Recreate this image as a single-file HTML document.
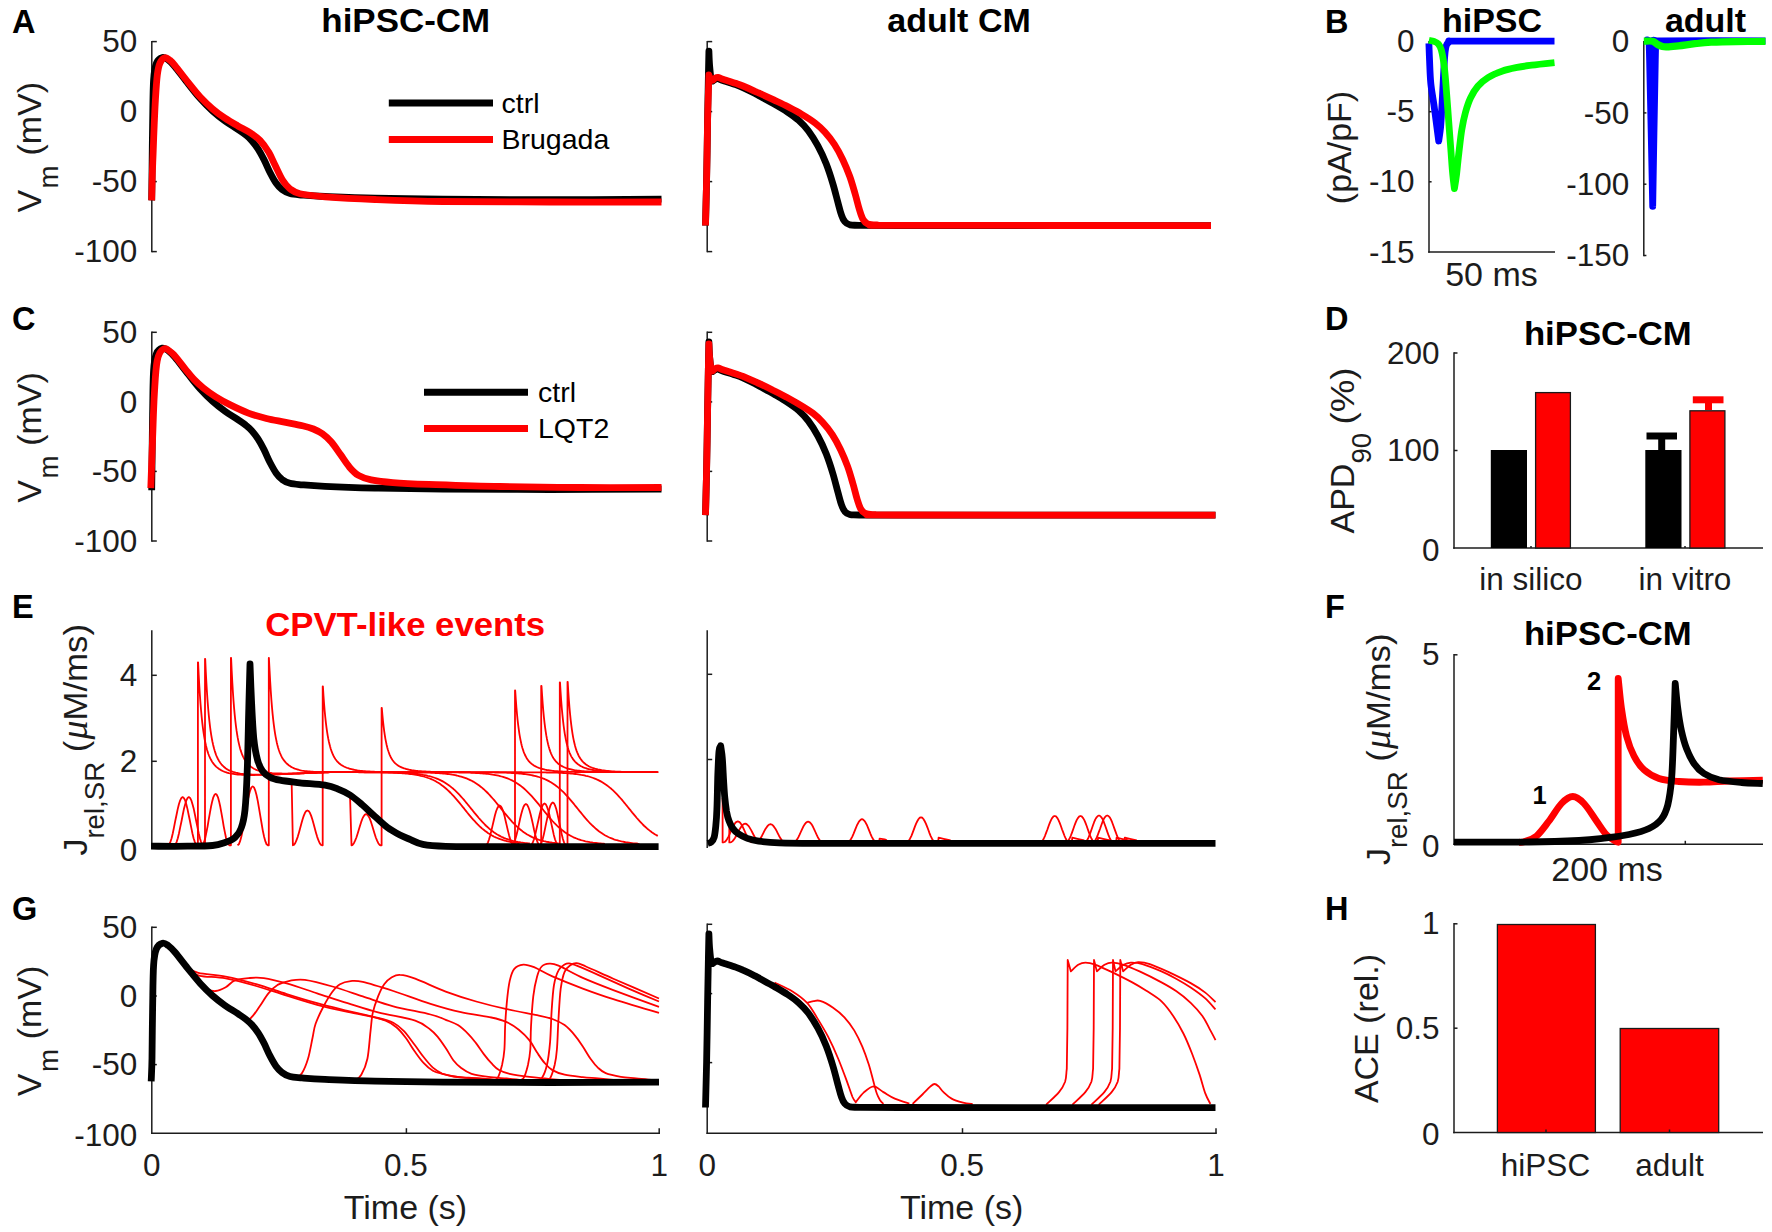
<!DOCTYPE html>
<html lang="en"><head><meta charset="utf-8"><title>Figure</title>
<style>html,body{margin:0;padding:0;background:#fff}svg{display:block}text{font-family:"Liberation Sans",Arial,Helvetica,sans-serif}</style></head>
<body>
<svg width="1772" height="1232" viewBox="0 0 1772 1232">
<rect width="1772" height="1232" fill="#fff"/>
<text x="12" y="33.3" font-size="32.5" text-anchor="start" font-weight="bold" fill="#000">A</text>
<text x="12" y="329.5" font-size="32.5" text-anchor="start" font-weight="bold" fill="#000">C</text>
<text x="12" y="617.5" font-size="32.5" text-anchor="start" font-weight="bold" fill="#000">E</text>
<text x="12" y="919.5" font-size="32.5" text-anchor="start" font-weight="bold" fill="#000">G</text>
<text x="1325" y="33.3" font-size="32.5" text-anchor="start" font-weight="bold" fill="#000">B</text>
<text x="1325" y="329.5" font-size="32.5" text-anchor="start" font-weight="bold" fill="#000">D</text>
<text x="1325" y="617.5" font-size="32.5" text-anchor="start" font-weight="bold" fill="#000">F</text>
<text x="1325" y="919.5" font-size="32.5" text-anchor="start" font-weight="bold" fill="#000">H</text>
<text x="405.7" y="31.5" font-size="34" text-anchor="middle" font-weight="bold" fill="#000" textLength="168.8" lengthAdjust="spacingAndGlyphs">hiPSC-CM</text>
<text x="959" y="31.5" font-size="34" text-anchor="middle" font-weight="bold" fill="#000">adult CM</text>
<text x="1492" y="31.5" font-size="34" text-anchor="middle" font-weight="bold" fill="#000">hiPSC</text>
<text x="1705.5" y="31.5" font-size="34" text-anchor="middle" font-weight="bold" fill="#000">adult</text>
<text x="1607.8" y="344.5" font-size="34" text-anchor="middle" font-weight="bold" fill="#000" textLength="167.8" lengthAdjust="spacingAndGlyphs">hiPSC-CM</text>
<text x="1607.8" y="645" font-size="34" text-anchor="middle" font-weight="bold" fill="#000" textLength="167.8" lengthAdjust="spacingAndGlyphs">hiPSC-CM</text>
<text x="405.2" y="635.5" font-size="34" text-anchor="middle" font-weight="bold" fill="#f00" textLength="280" lengthAdjust="spacingAndGlyphs">CPVT-like events</text>
<path d="M151.8 40.9L151.8 252.3" stroke="#1c1c1c" stroke-width="1.5" fill="none"/>
<path d="M151.8 41.6L156.8 41.6" stroke="#1c1c1c" stroke-width="1.5" fill="none"/>
<text x="137.2" y="52.2" font-size="31.5" text-anchor="end" fill="#1c1c1c">50</text>
<path d="M151.8 111.6L156.8 111.6" stroke="#1c1c1c" stroke-width="1.5" fill="none"/>
<text x="137.2" y="122.2" font-size="31.5" text-anchor="end" fill="#1c1c1c">0</text>
<path d="M151.8 181.6L156.8 181.6" stroke="#1c1c1c" stroke-width="1.5" fill="none"/>
<text x="137.2" y="192.2" font-size="31.5" text-anchor="end" fill="#1c1c1c">-50</text>
<path d="M151.8 251.6L156.8 251.6" stroke="#1c1c1c" stroke-width="1.5" fill="none"/>
<text x="137.2" y="262.2" font-size="31.5" text-anchor="end" fill="#1c1c1c">-100</text>
<path d="M707.2 40.9L707.2 252.3" stroke="#1c1c1c" stroke-width="1.5" fill="none"/>
<path d="M707.2 41.6L712.2 41.6" stroke="#1c1c1c" stroke-width="1.5" fill="none"/>
<path d="M707.2 111.6L712.2 111.6" stroke="#1c1c1c" stroke-width="1.5" fill="none"/>
<path d="M707.2 181.6L712.2 181.6" stroke="#1c1c1c" stroke-width="1.5" fill="none"/>
<path d="M707.2 251.6L712.2 251.6" stroke="#1c1c1c" stroke-width="1.5" fill="none"/>
<path d="M151.8 331.6L151.8 541.8" stroke="#1c1c1c" stroke-width="1.5" fill="none"/>
<path d="M151.8 332.3L156.8 332.3" stroke="#1c1c1c" stroke-width="1.5" fill="none"/>
<text x="137.2" y="342.9" font-size="31.5" text-anchor="end" fill="#1c1c1c">50</text>
<path d="M151.8 401.9L156.8 401.9" stroke="#1c1c1c" stroke-width="1.5" fill="none"/>
<text x="137.2" y="412.5" font-size="31.5" text-anchor="end" fill="#1c1c1c">0</text>
<path d="M151.8 471.4L156.8 471.4" stroke="#1c1c1c" stroke-width="1.5" fill="none"/>
<text x="137.2" y="482" font-size="31.5" text-anchor="end" fill="#1c1c1c">-50</text>
<path d="M151.8 541L156.8 541" stroke="#1c1c1c" stroke-width="1.5" fill="none"/>
<text x="137.2" y="551.6" font-size="31.5" text-anchor="end" fill="#1c1c1c">-100</text>
<path d="M707.2 331.6L707.2 541.8" stroke="#1c1c1c" stroke-width="1.5" fill="none"/>
<path d="M707.2 332.3L712.2 332.3" stroke="#1c1c1c" stroke-width="1.5" fill="none"/>
<path d="M707.2 401.9L712.2 401.9" stroke="#1c1c1c" stroke-width="1.5" fill="none"/>
<path d="M707.2 471.4L712.2 471.4" stroke="#1c1c1c" stroke-width="1.5" fill="none"/>
<path d="M707.2 541L712.2 541" stroke="#1c1c1c" stroke-width="1.5" fill="none"/>
<path d="M151.8 630.2L151.8 848" stroke="#1c1c1c" stroke-width="1.5" fill="none"/>
<path d="M151.8 675.3L156.8 675.3" stroke="#1c1c1c" stroke-width="1.5" fill="none"/>
<text x="137.2" y="685.9" font-size="31.5" text-anchor="end" fill="#1c1c1c">4</text>
<path d="M151.8 761.3L156.8 761.3" stroke="#1c1c1c" stroke-width="1.5" fill="none"/>
<text x="137.2" y="771.9" font-size="31.5" text-anchor="end" fill="#1c1c1c">2</text>
<text x="137.2" y="860.8" font-size="31.5" text-anchor="end" fill="#1c1c1c">0</text>
<path d="M707.2 630.2L707.2 848" stroke="#1c1c1c" stroke-width="1.5" fill="none"/>
<path d="M707.2 674.3L712.2 674.3" stroke="#1c1c1c" stroke-width="1.5" fill="none"/>
<path d="M707.2 759.5L712.2 759.5" stroke="#1c1c1c" stroke-width="1.5" fill="none"/>
<path d="M151.8 926.5L151.8 1134" stroke="#1c1c1c" stroke-width="1.5" fill="none"/>
<path d="M151.8 927.3L156.8 927.3" stroke="#1c1c1c" stroke-width="1.5" fill="none"/>
<text x="137.2" y="937.9" font-size="31.5" text-anchor="end" fill="#1c1c1c">50</text>
<path d="M151.8 996L156.8 996" stroke="#1c1c1c" stroke-width="1.5" fill="none"/>
<text x="137.2" y="1006.6" font-size="31.5" text-anchor="end" fill="#1c1c1c">0</text>
<path d="M151.8 1064.6L156.8 1064.6" stroke="#1c1c1c" stroke-width="1.5" fill="none"/>
<text x="137.2" y="1075.2" font-size="31.5" text-anchor="end" fill="#1c1c1c">-50</text>
<text x="137.2" y="1145.8" font-size="31.5" text-anchor="end" fill="#1c1c1c">-100</text>
<path d="M707.2 923.5L707.2 1134" stroke="#1c1c1c" stroke-width="1.5" fill="none"/>
<path d="M707.2 924.3L712.2 924.3" stroke="#1c1c1c" stroke-width="1.5" fill="none"/>
<path d="M707.2 993.6L712.2 993.6" stroke="#1c1c1c" stroke-width="1.5" fill="none"/>
<path d="M707.2 1062.6L712.2 1062.6" stroke="#1c1c1c" stroke-width="1.5" fill="none"/>
<path d="M151 1133.2L660 1133.2" stroke="#1c1c1c" stroke-width="1.5" fill="none"/>
<path d="M406.4 1133.2L406.4 1128.2" stroke="#1c1c1c" stroke-width="1.5" fill="none"/>
<path d="M659.2 1133.2L659.2 1128.2" stroke="#1c1c1c" stroke-width="1.5" fill="none"/>
<text x="151.8" y="1175.5" font-size="31.5" text-anchor="middle" fill="#1c1c1c">0</text>
<text x="406" y="1175.5" font-size="31.5" text-anchor="middle" fill="#1c1c1c">0.5</text>
<text x="659.2" y="1175.5" font-size="31.5" text-anchor="middle" fill="#1c1c1c">1</text>
<text x="405.5" y="1219" font-size="34" text-anchor="middle" fill="#1c1c1c">Time (s)</text>
<path d="M706.5 1133.2L1216.8 1133.2" stroke="#1c1c1c" stroke-width="1.5" fill="none"/>
<path d="M962.5 1133.2L962.5 1128.2" stroke="#1c1c1c" stroke-width="1.5" fill="none"/>
<path d="M1216 1133.2L1216 1128.2" stroke="#1c1c1c" stroke-width="1.5" fill="none"/>
<text x="707.2" y="1175.5" font-size="31.5" text-anchor="middle" fill="#1c1c1c">0</text>
<text x="962.1" y="1175.5" font-size="31.5" text-anchor="middle" fill="#1c1c1c">0.5</text>
<text x="1216" y="1175.5" font-size="31.5" text-anchor="middle" fill="#1c1c1c">1</text>
<text x="961.6" y="1219" font-size="34" text-anchor="middle" fill="#1c1c1c">Time (s)</text>
<path d="M1429 40.9L1429 252.8" stroke="#1c1c1c" stroke-width="1.5" fill="none"/>
<path d="M1429 41.6L1431.6 41.6" stroke="#1c1c1c" stroke-width="1.5" fill="none"/>
<text x="1414.5" y="52.2" font-size="31.5" text-anchor="end" fill="#1c1c1c">0</text>
<path d="M1429 111.7L1431.6 111.7" stroke="#1c1c1c" stroke-width="1.5" fill="none"/>
<text x="1414.5" y="122.3" font-size="31.5" text-anchor="end" fill="#1c1c1c">-5</text>
<path d="M1429 181.8L1431.6 181.8" stroke="#1c1c1c" stroke-width="1.5" fill="none"/>
<text x="1414.5" y="192.4" font-size="31.5" text-anchor="end" fill="#1c1c1c">-10</text>
<text x="1414.5" y="262.6" font-size="31.5" text-anchor="end" fill="#1c1c1c">-15</text>
<path d="M1428.2 252L1555 252" stroke="#1c1c1c" stroke-width="1.5" fill="none"/>
<text x="1491.5" y="285.5" font-size="34" text-anchor="middle" fill="#1c1c1c">50 ms</text>
<path d="M1643.8 40.9L1643.8 256.2" stroke="#1c1c1c" stroke-width="1.5" fill="none"/>
<path d="M1643.8 41.6L1646.4 41.6" stroke="#1c1c1c" stroke-width="1.5" fill="none"/>
<text x="1629.3" y="52.2" font-size="31.5" text-anchor="end" fill="#1c1c1c">0</text>
<path d="M1643.8 112.9L1646.4 112.9" stroke="#1c1c1c" stroke-width="1.5" fill="none"/>
<text x="1629.3" y="123.5" font-size="31.5" text-anchor="end" fill="#1c1c1c">-50</text>
<path d="M1643.8 184.2L1646.4 184.2" stroke="#1c1c1c" stroke-width="1.5" fill="none"/>
<text x="1629.3" y="194.8" font-size="31.5" text-anchor="end" fill="#1c1c1c">-100</text>
<path d="M1643.8 255.5L1646.4 255.5" stroke="#1c1c1c" stroke-width="1.5" fill="none"/>
<text x="1629.3" y="266.1" font-size="31.5" text-anchor="end" fill="#1c1c1c">-150</text>
<path d="M1454 352.2L1454 548.8" stroke="#1c1c1c" stroke-width="1.5" fill="none"/>
<path d="M1454 353L1457.5 353" stroke="#1c1c1c" stroke-width="1.5" fill="none"/>
<text x="1439.5" y="363.6" font-size="31.5" text-anchor="end" fill="#1c1c1c">200</text>
<path d="M1454 450.5L1457.5 450.5" stroke="#1c1c1c" stroke-width="1.5" fill="none"/>
<text x="1439.5" y="461.1" font-size="31.5" text-anchor="end" fill="#1c1c1c">100</text>
<text x="1439.5" y="561.1" font-size="31.5" text-anchor="end" fill="#1c1c1c">0</text>
<path d="M1453.2 548L1763 548" stroke="#1c1c1c" stroke-width="1.5" fill="none"/>
<text x="1531" y="589.5" font-size="31.5" text-anchor="middle" fill="#1c1c1c">in silico</text>
<text x="1685" y="589.5" font-size="31.5" text-anchor="middle" fill="#1c1c1c">in vitro</text>
<path d="M1454 654L1454 845" stroke="#1c1c1c" stroke-width="1.5" fill="none"/>
<path d="M1454 654.8L1457.5 654.8" stroke="#1c1c1c" stroke-width="1.5" fill="none"/>
<text x="1439.5" y="665.4" font-size="31.5" text-anchor="end" fill="#1c1c1c">5</text>
<text x="1439.5" y="857.4" font-size="31.5" text-anchor="end" fill="#1c1c1c">0</text>
<path d="M1453.2 844.3L1763 844.3" stroke="#1c1c1c" stroke-width="1.5" fill="none"/>
<path d="M1685.3 844.3L1685.3 840.8" stroke="#1c1c1c" stroke-width="1.5" fill="none"/>
<text x="1607" y="881.3" font-size="34" text-anchor="middle" fill="#1c1c1c">200 ms</text>
<path d="M1454 923L1454 1133.2" stroke="#1c1c1c" stroke-width="1.5" fill="none"/>
<path d="M1454 923.8L1457.5 923.8" stroke="#1c1c1c" stroke-width="1.5" fill="none"/>
<text x="1439.5" y="934.4" font-size="31.5" text-anchor="end" fill="#1c1c1c">1</text>
<path d="M1454 1028.2L1457.5 1028.2" stroke="#1c1c1c" stroke-width="1.5" fill="none"/>
<text x="1439.5" y="1038.8" font-size="31.5" text-anchor="end" fill="#1c1c1c">0.5</text>
<text x="1439.5" y="1145.1" font-size="31.5" text-anchor="end" fill="#1c1c1c">0</text>
<path d="M1453.2 1132.5L1763 1132.5" stroke="#1c1c1c" stroke-width="1.5" fill="none"/>
<text x="1545.5" y="1175.5" font-size="31.5" text-anchor="middle" fill="#1c1c1c">hiPSC</text>
<text x="1669.5" y="1175.5" font-size="31.5" text-anchor="middle" fill="#1c1c1c">adult</text>
<text transform="translate(41 212.6) rotate(-90)" font-size="34" fill="#1c1c1c">V</text>
<text transform="translate(57.9 188.4) rotate(-90)" font-size="27.6" fill="#1c1c1c">m</text>
<text transform="translate(41 155.6) rotate(-90)" font-size="34" fill="#1c1c1c">(mV)</text>
<text transform="translate(41 502.8) rotate(-90)" font-size="34" fill="#1c1c1c">V</text>
<text transform="translate(57.9 478.5) rotate(-90)" font-size="27.6" fill="#1c1c1c">m</text>
<text transform="translate(41 445.8) rotate(-90)" font-size="34" fill="#1c1c1c">(mV)</text>
<text transform="translate(41 1096.3) rotate(-90)" font-size="34" fill="#1c1c1c">V</text>
<text transform="translate(57.9 1072) rotate(-90)" font-size="27.6" fill="#1c1c1c">m</text>
<text transform="translate(41 1039.3) rotate(-90)" font-size="34" fill="#1c1c1c">(mV)</text>
<text transform="translate(86.9 855.5) rotate(-90)" font-size="34" fill="#1c1c1c">J</text>
<text transform="translate(103.8 838.6) rotate(-90)" font-size="27.6" fill="#1c1c1c">rel,SR</text>
<text transform="translate(86.9 752) rotate(-90)" font-size="34" fill="#1c1c1c">(</text>
<text transform="translate(86.9 739.5) rotate(-90)" font-size="38" fill="#1c1c1c"><tspan font-style="italic" font-family="Liberation Serif, DejaVu Serif, serif">&#956;</tspan></text>
<text transform="translate(86.9 720.5) rotate(-90)" font-size="34" fill="#1c1c1c" textLength="96.5" lengthAdjust="spacingAndGlyphs">M/ms)</text>
<text transform="translate(1390 865) rotate(-90)" font-size="34" fill="#1c1c1c">J</text>
<text transform="translate(1406.9 848.1) rotate(-90)" font-size="27.6" fill="#1c1c1c">rel,SR</text>
<text transform="translate(1390 761.5) rotate(-90)" font-size="34" fill="#1c1c1c">(</text>
<text transform="translate(1390 749) rotate(-90)" font-size="38" fill="#1c1c1c"><tspan font-style="italic" font-family="Liberation Serif, DejaVu Serif, serif">&#956;</tspan></text>
<text transform="translate(1390 730) rotate(-90)" font-size="34" fill="#1c1c1c" textLength="96.5" lengthAdjust="spacingAndGlyphs">M/ms)</text>
<text transform="translate(1350.5 147.5) rotate(-90)" font-size="34" text-anchor="middle" fill="#1c1c1c">(pA/pF)</text>
<text transform="translate(1353.7 533.5) rotate(-90)" font-size="34" fill="#1c1c1c">APD</text>
<text transform="translate(1370.6 463.5) rotate(-90)" font-size="27.6" fill="#1c1c1c">90</text>
<text transform="translate(1353.7 424.5) rotate(-90)" font-size="34" fill="#1c1c1c" textLength="57" lengthAdjust="spacingAndGlyphs">(%)</text>
<text transform="translate(1378 1028.5) rotate(-90)" font-size="34" text-anchor="middle" fill="#1c1c1c">ACE (rel.)</text>
<path d="M388.8 103L493 103" stroke="#000" stroke-width="7" fill="none"/>
<path d="M388.8 139.5L493 139.5" stroke="#f00" stroke-width="7" fill="none"/>
<text x="501.5" y="112.5" font-size="28.5" text-anchor="start" fill="#000">ctrl</text>
<text x="501.5" y="149" font-size="28.5" text-anchor="start" fill="#000">Brugada</text>
<path d="M424 392.3L528 392.3" stroke="#000" stroke-width="7" fill="none"/>
<path d="M424 428.5L528 428.5" stroke="#f00" stroke-width="7" fill="none"/>
<text x="538" y="401.8" font-size="28.5" text-anchor="start" fill="#000">ctrl</text>
<text x="538" y="438" font-size="28.5" text-anchor="start" fill="#000">LQT2</text>
<rect x="1490.8" y="450" width="36.2" height="98" fill="#000"/>
<rect x="1535.6" y="392.6" width="34.8" height="155.4" fill="#f00" stroke="#1a1a1a" stroke-width="1.3"/>
<rect x="1645.3" y="450" width="36.2" height="98" fill="#000"/>
<rect x="1689.9" y="410.8" width="35" height="137.2" fill="#f00" stroke="#1a1a1a" stroke-width="1.3"/>
<path d="M1661.7 450L1661.7 436" stroke="#000" stroke-width="7" fill="none"/>
<path d="M1646.5 436L1677 436" stroke="#000" stroke-width="7" fill="none"/>
<path d="M1708.5 410L1708.5 399.8" stroke="#f00" stroke-width="7" fill="none"/>
<path d="M1692.8 399.8L1723.5 399.8" stroke="#f00" stroke-width="7" fill="none"/>
<path d="M1531 548L1531 546" stroke="#1c1c1c" stroke-width="1.5" fill="none"/>
<path d="M1685 548L1685 546" stroke="#1c1c1c" stroke-width="1.5" fill="none"/>
<rect x="1497.4" y="924.5" width="98" height="208" fill="#f00" stroke="#1a1a1a" stroke-width="1.3"/>
<rect x="1620.2" y="1028.5" width="98.5" height="104" fill="#f00" stroke="#1a1a1a" stroke-width="1.3"/>
<path d="M1546 1132.5L1546 1129.5" stroke="#1c1c1c" stroke-width="1.5" fill="none"/>
<path d="M1669.5 1132.5L1669.5 1129.5" stroke="#1c1c1c" stroke-width="1.5" fill="none"/>
<text x="1539.5" y="804" font-size="25.5" text-anchor="middle" font-weight="bold" fill="#000">1</text>
<text x="1594" y="689.8" font-size="25.5" text-anchor="middle" font-weight="bold" fill="#000">2</text>
<path d="M151.7 200.4C151.8 196.2 151.8 187.6 152 175C152.2 162.4 152.3 140.8 152.6 125C152.9 109.2 152.9 90.3 153.6 80C154.2 69.7 155 66.8 156.5 63C158 59.2 160.6 58 162.5 57.5C164.4 57 165.9 58.2 168 59.8C170.1 61.3 171.8 62.9 175 66.8C178.2 70.7 183.3 77.7 187.5 82.9C191.7 88.2 195.8 93.6 200 98.3C204.2 103 208.3 107.2 212.5 111C216.7 114.8 220.8 118 225 121C229.2 124 234 126.8 237.5 129.2C241 131.6 243.6 133.2 246 135.2C248.4 137.1 250 138.6 252 140.9C254 143.2 256 145.7 258 148.8C260 151.9 262 155.7 264 159.6C266 163.5 268 168.6 270 172.5C272 176.4 274 180.2 276 183C278 185.8 279.7 187.8 282 189.5C284.3 191.2 286.7 192.6 290 193.5C293.3 194.4 296.2 194.5 302 195C307.8 195.5 312.8 196 325 196.5C337.2 197 355.3 197.8 375 198.2C394.7 198.7 413.8 199 443 199.2C472.2 199.5 513.6 199.7 550 199.7C586.4 199.7 642.9 199.3 661.5 199.2" fill="none" stroke="#000" stroke-width="6.8" stroke-linejoin="round" stroke-linecap="butt"/>
<path d="M151.7 200.4C151.8 196.2 152.1 182.7 152.3 175C152.5 167.3 152.8 162.3 153.1 154C153.4 145.7 153.8 134 154.2 125C154.6 116 154.9 108.3 155.4 100C155.9 91.7 156.5 81.2 157.3 75C158.1 68.8 158.7 65.9 160 63C161.3 60.1 163.3 58.2 165 57.8C166.7 57.3 168.3 59 170 60.3C171.7 61.6 172.1 62 175 65.6C177.9 69.1 183.3 76.4 187.5 81.6C191.7 86.8 195.8 92.3 200 96.8C204.2 101.3 208.3 105.2 212.5 108.8C216.7 112.4 220.8 115.4 225 118.2C229.2 121 233.3 123.3 237.5 125.7C241.7 128.1 246.2 130.2 250 132.6C253.8 135 256.9 137.1 260 140.4C263.1 143.7 266.2 148.1 268.8 152.2C271.2 156.3 272.7 160.4 275 165C277.3 169.6 280 176 282.5 180C285 184 287.1 186.5 290 188.8C292.9 191 294.2 192.4 300 193.8C305.8 195.1 312.5 195.8 325 196.8C337.5 197.7 355.3 198.7 375 199.5C394.7 200.3 413.8 201.1 443 201.5C472.2 201.9 513.6 201.9 550 202C586.4 202.1 642.9 202 661.5 202" fill="none" stroke="#f00" stroke-width="6.8" stroke-linejoin="round" stroke-linecap="butt"/>
<path d="M705.5 225.5C705.7 217.9 706.2 197.6 706.6 180C707 162.4 707.3 137.5 707.6 120C707.9 102.5 708.2 86.5 708.4 75C708.6 63.5 708.8 55.2 708.9 51.2L708.9 51.2C709 53.6 709.2 61 709.6 65.6C710 70.1 710.5 75.9 711 78.5C711.5 81.1 712.4 80.6 712.7 81L712.7 81C713.1 80.7 714.1 79.7 715 79.3C715.9 78.9 716.8 78.3 718 78.5C719.2 78.7 719.1 79.3 722 80.3C724.9 81.3 732 83.4 735.5 84.6C739 85.8 739.8 86.1 743 87.6C746.2 89.1 752.2 92 755 93.4C757.8 94.8 756.9 94.5 760 96.2C763.1 97.9 769.2 101.2 773.8 103.8C778.4 106.4 783.5 109.3 787.6 112.1C791.7 114.8 795.2 117.2 798.6 120.3C802 123.4 805.1 126.4 808.3 130.7C811.5 135 814.9 140.4 817.9 145.9C820.9 151.4 823.7 157.4 826.2 163.8C828.7 170.2 831.2 178.1 833.1 184.5C835 190.9 836.5 197.3 837.9 202.4C839.3 207.5 840.2 211.6 841.4 214.8C842.5 218 843.4 220 844.8 221.7C846.2 223.4 847.3 224.2 849.7 224.8C852.1 225.4 850.9 225.2 859.3 225.3C867.7 225.4 841.4 225.4 900 225.5C958.6 225.6 1159.2 225.6 1211 225.6" fill="none" stroke="#000" stroke-width="6.8" stroke-linejoin="round" stroke-linecap="butt"/>
<path d="M705.5 225.5C705.7 217.9 706.2 197.6 706.6 180C707 162.4 707.3 134.7 707.6 120C707.9 105.3 708.2 99.5 708.4 92C708.6 84.5 708.8 77.8 708.9 75L708.9 75C709.2 75.8 709.9 78.6 710.5 79.5C711.1 80.4 712.3 80.2 712.7 80.3L712.7 80.3C713.1 80 714.1 78.8 715 78.3C715.9 77.8 716.8 77.3 718 77.4C719.2 77.5 719.1 78 722 79C724.9 80 732 82.1 735.5 83.3C739 84.5 739.8 84.7 743 86C746.2 87.3 752.2 90 755 91.3C757.8 92.5 756.9 92.1 760 93.5C763.1 94.9 769.2 97.7 773.8 99.9C778.4 102.1 783 104.2 787.6 106.6C792.2 109 796.8 111.3 801.4 114.1C806 116.8 811.3 120.1 815.2 123.1C819.1 126.1 821.6 128.5 824.8 132.1C828 135.7 831.5 139.9 834.5 144.5C837.5 149.1 840.3 154.4 842.8 159.7C845.3 165 847.6 170.5 849.7 176.2C851.8 181.9 853.6 188.6 855.2 194.1C856.8 199.6 858 205.2 859.3 209.3C860.6 213.5 861.4 216.6 862.8 219C864.2 221.4 865.2 222.8 867.6 223.8C870 224.8 871.8 224.8 877.2 225C882.6 225.2 844.4 225.2 900 225.3C955.6 225.4 1159.2 225.6 1211 225.6" fill="none" stroke="#f00" stroke-width="6.8" stroke-linejoin="round" stroke-linecap="butt"/>
<path d="M151.7 490.2C151.8 486 151.8 477.4 152 464.9C152.2 452.4 152.3 431 152.6 415.2C152.9 399.5 152.9 380.8 153.6 370.5C154.2 360.2 155 357.3 156.5 353.6C158 349.8 160.6 348.6 162.5 348.1C164.4 347.6 165.9 348.9 168 350.4C170.1 351.9 171.8 353.5 175 357.4C178.2 361.2 183.3 368.1 187.5 373.4C191.7 378.6 195.8 384 200 388.7C204.2 393.3 208.3 397.5 212.5 401.3C216.7 405.1 220.8 408.2 225 411.2C229.2 414.3 234 417 237.5 419.4C241 421.8 243.6 423.4 246 425.4C248.4 427.3 250 428.8 252 431C254 433.3 256 435.8 258 438.9C260 442 262 445.7 264 449.6C266 453.6 268 458.6 270 462.5C272 466.3 274 470.1 276 472.9C278 475.7 279.7 477.6 282 479.4C284.3 481.1 286.7 482.4 290 483.3C293.3 484.2 296.2 484.3 302 484.8C307.8 485.3 312.8 485.8 325 486.3C337.2 486.9 355.3 487.6 375 488.1C394.7 488.5 413.8 488.8 443 489C472.2 489.3 513.6 489.5 550 489.5C586.4 489.5 642.9 489.1 661.5 489" fill="none" stroke="#000" stroke-width="6.8" stroke-linejoin="round" stroke-linecap="butt"/>
<path d="M150.8 488.1C151.1 479.8 152 454.2 152.6 438.4C153.2 422.6 153.6 406.1 154.4 393.2C155.2 380.2 155.7 368.1 157.2 360.7C158.7 353.3 160.9 350.2 163.5 349C166.1 347.8 168.9 350.2 172.5 353.5C176.1 356.8 181.5 364.4 185.1 368.8C188.7 373.2 191.2 376.5 194.2 379.7C197.2 382.9 199.6 384.9 203.2 387.8C206.8 390.7 211.3 394 215.8 396.8C220.3 399.6 224.9 402.2 230.3 404.9C235.7 407.6 242.4 410.8 248.4 413.1C254.4 415.4 260.4 417 266.4 418.5C272.4 420 278.5 420.9 284.5 422.1C290.5 423.3 297.7 424.6 302.5 425.7C307.3 426.8 310.1 427.6 313.4 429C316.7 430.4 319.4 431.6 322.4 433.8C325.4 436 328.4 438.5 331.4 442C334.4 445.5 337.5 450.4 340.5 454.6C343.5 458.8 346.5 463.7 349.5 467.2C352.5 470.7 354.9 473.3 358.5 475.4C362.1 477.5 365.5 478.7 371.2 479.9C376.9 481.1 383.2 481.9 392.8 482.6C402.4 483.4 411 483.8 428.9 484.4C446.8 485 474.8 486 500 486.5C525.2 487 553.1 487.3 580 487.5C606.9 487.7 647.9 487.5 661.5 487.5" fill="none" stroke="#f00" stroke-width="6.8" stroke-linejoin="round" stroke-linecap="butt"/>
<path d="M705.5 515.2C705.7 507.6 706.2 487.4 706.6 469.9C707 452.4 707.3 427.7 707.6 410.3C707.9 392.9 708.2 376.9 708.4 365.5C708.6 354.1 708.8 345.8 708.9 341.8L708.9 341.8C709 344.2 709.2 351.6 709.6 356.2C710 360.7 710.5 366.4 711 369C711.5 371.5 712.4 371.1 712.7 371.5L712.7 371.5C713.1 371.2 714.1 370.2 715 369.8C715.9 369.4 716.8 368.8 718 369C719.2 369.2 719.1 369.8 722 370.8C724.9 371.8 732 373.8 735.5 375.1C739 376.3 739.8 376.6 743 378C746.2 379.5 752.2 382.4 755 383.8C757.8 385.2 756.9 384.9 760 386.6C763.1 388.3 769.2 391.5 773.8 394.1C778.4 396.8 783.5 399.7 787.6 402.4C791.7 405.1 795.2 407.5 798.6 410.5C802 413.6 805.1 416.6 808.3 420.9C811.5 425.1 814.9 430.5 817.9 436C820.9 441.5 823.7 447.4 826.2 453.8C828.7 460.2 831.2 468 833.1 474.4C835 480.8 836.5 487.2 837.9 492.2C839.3 497.2 840.2 501.3 841.4 504.5C842.5 507.7 843.4 509.7 844.8 511.4C846.2 513 847.3 513.9 849.7 514.5C852.1 515.1 850.9 514.8 859.3 515C867.7 515.1 840.6 515.1 900 515.2C959.4 515.2 1162.9 515.2 1215.5 515.2" fill="none" stroke="#000" stroke-width="6.8" stroke-linejoin="round" stroke-linecap="butt"/>
<path d="M705.5 515.2C705.7 507.6 706.2 487.4 706.6 469.9C707 452.4 707.3 427.7 707.6 410.3C707.9 392.9 708.2 376.6 708.4 365.5C708.6 354.4 708.8 347.4 708.9 343.8L708.9 343.8C709 346.1 709.2 353 709.6 357.2C710 361.3 710.5 366.7 711 369C711.5 371.3 712.4 370.5 712.7 370.8L712.7 370.8C713.1 370.4 714.1 369.3 715 368.8C715.9 368.3 716.8 367.8 718 367.9C719.2 368 719.1 368.5 722 369.5C724.9 370.5 732 372.6 735.5 373.8C739 374.9 739.8 375.1 743 376.4C746.2 377.8 752.2 380.5 755 381.7C757.8 383 757 382.5 760 383.9C763 385.3 768.7 388.1 773 390.3C777.4 392.4 781.7 394.6 786.1 396.9C790.4 399.3 794.7 401.7 799.2 404.4C803.7 407.1 809.1 410.4 813 413.3C816.9 416.3 819.4 418.7 822.6 422.3C825.8 425.8 829.3 430 832.3 434.6C835.3 439.2 838.1 444.5 840.6 449.7C843.1 455 845.4 460.4 847.5 466.1C849.6 471.8 851.4 478.4 853 483.9C854.6 489.4 855.8 494.9 857.1 499C858.4 503.2 859.2 506.3 860.6 508.7C862 511.1 863 512.5 865.4 513.5C867.8 514.5 869.6 514.4 875 514.7C880.4 514.9 841 514.9 897.8 515C954.5 515.1 1162.5 515.2 1215.5 515.2" fill="none" stroke="#f00" stroke-width="6.8" stroke-linejoin="round" stroke-linecap="butt"/>
<path d="M1428.9 43.3C1429 46.3 1429.3 54.8 1429.6 61.5C1429.9 68.2 1430.1 76.1 1430.8 83.4C1431.5 90.7 1433 98 1434 105.3C1435 112.6 1436.1 121.2 1436.9 127.2C1437.7 133.2 1438.4 138.7 1438.7 141L1438.7 141C1439 138.7 1440 133.2 1440.6 127.2C1441.1 121.2 1441.5 113.8 1442 105.3C1442.5 96.8 1443 84.6 1443.5 76.1C1444 67.6 1444.4 59.3 1444.9 54.2C1445.4 49.1 1445.6 47.5 1446.4 45.4C1447.2 43.3 1447.9 42.1 1450 41.4C1452.1 40.7 1441.4 41.1 1458.8 41.1C1476.2 41.1 1538.5 41.1 1554.5 41.1" fill="none" stroke="#00f" stroke-width="6.8" stroke-linejoin="round" stroke-linecap="butt"/>
<path d="M1428.9 40.3C1429.8 40.5 1432.4 40.8 1434 41.4C1435.6 42 1437.2 42.6 1438.4 44C1439.6 45.4 1440.3 46.1 1441.3 49.8C1442.3 53.4 1443.3 59.1 1444.2 65.9C1445.1 72.7 1445.7 81.7 1446.4 90.7C1447.1 99.7 1447.9 110.2 1448.6 119.9C1449.3 129.6 1450.1 140.1 1450.8 149.1C1451.5 158.1 1452.1 167.4 1452.7 174C1453.3 180.6 1454.1 186.2 1454.4 188.6L1454.4 188.6C1454.8 186.2 1455.9 179.8 1456.6 174C1457.3 168.2 1457.9 160.8 1458.8 153.5C1459.7 146.2 1460.6 137 1461.7 130.2C1462.8 123.4 1463.9 118 1465.4 112.6C1466.9 107.2 1468.4 102.4 1470.5 98C1472.6 93.6 1474.9 89.7 1477.8 86.3C1480.7 82.9 1483.9 80.1 1488 77.6C1492.1 75 1497.7 72.7 1502.6 71C1507.5 69.3 1512.3 68.4 1517.2 67.4C1522.1 66.4 1525.6 66 1531.8 65.2C1538 64.4 1550.7 63.1 1554.5 62.7" fill="none" stroke="#0f0" stroke-width="6.8" stroke-linejoin="round" stroke-linecap="butt"/>
<path d="M1644.5 41C1645.2 41.1 1647.7 38.3 1648.5 41.5C1649.3 44.7 1648.9 32.5 1649.6 60C1650.3 87.5 1652.2 182 1652.7 206.4L1652.7 206.4C1653.1 182 1654.7 87.4 1655.3 60C1655.9 32.6 1655.4 45.2 1656.5 42C1657.6 38.8 1643.8 41 1662 40.8C1680.2 40.6 1748.2 40.8 1765.5 40.8" fill="none" stroke="#00f" stroke-width="6.8" stroke-linejoin="round" stroke-linecap="butt"/>
<path d="M1643.8 41.2C1645.3 41.2 1650.4 40.7 1652.7 41.2C1655 41.8 1656 43.6 1657.6 44.5C1659.2 45.4 1660.9 46.2 1662.5 46.6C1664.1 47 1664.6 47 1667.3 46.9C1670 46.8 1674.1 46.3 1678.7 45.8C1683.3 45.3 1689.5 44.3 1694.9 43.7C1700.3 43.1 1704.3 42.6 1711.1 42.2C1717.9 41.9 1726.4 41.7 1735.5 41.6C1744.6 41.5 1760.5 41.4 1765.5 41.4" fill="none" stroke="#0f0" stroke-width="7.2" stroke-linejoin="round" stroke-linecap="butt"/>
<path d="M167.9 845.3L169.1 844.5L170.3 842.1L171.6 838.2L172.8 833.2L174 827.4L175.2 821.2L176.5 815L177.7 809.1L178.9 804.2L180.2 800.3L181.4 797.9L182.6 797.1L183.8 797.9L185.1 800.3L186.3 804.2L187.5 809.1L188.7 815L190 821.2L191.2 827.4L192.4 833.2L193.6 838.2L194.9 842.1L196.1 844.5L197.3 845.3L197.9 845.3L197.9 662.3L198.1 662.3L198.7 674.8L199.3 685.7L199.9 695.2L200.5 703.5L201.1 710.8L201.7 717.2L202.3 722.8L202.9 727.8L203.5 732.2L204.1 736L204.7 739.5L205.3 742.5L205.9 745.3L206.5 747.7L207.1 749.9L207.7 751.9L208.3 753.7L208.9 755.3L209.5 756.7L210.1 758L210.7 759.2L211.3 760.3L211.9 761.4L212.5 762.3L213.1 763.1L213.7 763.9L214.3 764.7L214.9 765.3L215.5 766L216.1 766.6L216.7 767.1L217.3 767.6L217.9 768.1L218.5 768.5L219.1 769L219.7 769.3L220.3 769.7L220.9 770.1L221.5 770.4L222.1 770.7L222.7 771L223.3 771.3L223.9 771.5L224.5 771.8L225.1 772L225.7 772.2L226.3 772.4L226.9 772.6L227.5 772.8L228.1 772.9L228.7 773.1L230.2 773.4L231.7 773.7L233.2 773.9L234.7 774.1L236.2 774.3L237.7 774.5L239.2 774.6L240.7 774.7L242.2 774.8L243.7 774.8L245.2 774.9L246.7 774.9L248.2 774.9L249.7 775L251.2 775L252.7 775L254.2 775L255.7 774.9L257.2 774.9L258.7 774.9L260.2 774.9L261.7 774.8L263.2 774.8L264.7 774.8L266.2 774.7L267.7 774.7L269.2 774.6L270.7 774.6L272.2 774.5L273.7 774.5L275.2 774.4L276.7 774.4L278.2 774.3L279.7 774.3L281.2 774.2L282.7 774.1L284.2 774.1L285.7 774L287.2 774L288.7 773.9L290.2 773.8L291.7 773.8L293.2 773.7L294.7 773.7L296.2 773.6L297.7 773.5L299.2 773.5L300.7 773.4L302.2 773.4L303.7 773.3L305.2 773.2L306.7 773.2L308.2 773.1L309.7 773L311.2 773L312.7 772.9L314.2 772.9L315.7 772.8L317.2 772.7L318.7 772.7L320.2 772.6L321.7 772.6L323.2 772.5L324.7 772.4L326.2 772.4L327.7 772.3L329.2 772.2L330.7 772.2L332.2 772.2L333.7 772.2L335.2 772.2L336.7 772.2L338.2 772.2L339.7 772.2L341.2 772.2L342.7 772.2L344.2 772.2L345.7 772.2L347.2 772.2L348.7 772.2L350.2 772.2L351.7 772.2L353.2 772.2L354.7 772.2L356.2 772.2L357.7 772.2L359.2 772.3L360.7 772.3L362.2 772.3L363.7 772.3L365.2 772.3L366.7 772.3L368.2 772.3L369.7 772.3L371.2 772.3L372.7 772.3L374.2 772.4L375.7 772.4L377.2 772.4L378.7 772.4L380.2 772.4L381.7 772.5L383.2 772.5L384.7 772.5L386.2 772.6L387.7 772.6L389.2 772.6L390.7 772.7L392.2 772.7L393.7 772.8L395.2 772.8L396.7 772.9L398.2 773L399.7 773.1L401.2 773.2L402.7 773.3L404.2 773.4L405.7 773.5L407.2 773.7L408.7 773.8L410.2 774L411.7 774.2L413.2 774.4L414.7 774.6L416.2 774.8L417.7 775.1L419.2 775.4L420.7 775.8L422.2 776.1L423.7 776.5L425.2 777L426.7 777.4L428.2 778L429.7 778.5L431.2 779.1L432.7 779.8L434.2 780.5L435.7 781.3L437.2 782.2L438.7 783.1L440.2 784.1L441.7 785.2L443.2 786.3L444.7 787.5L446.2 788.8L447.7 790.1L449.2 791.5L450.7 793L452.2 794.6L453.7 796.2L455.2 797.9L456.7 799.6L458.2 801.4L459.7 803.2L461.2 805L462.7 806.9L464.2 808.7L465.7 810.6L467.2 812.5L468.7 814.3L470.2 816.1L471.7 817.9L473.2 819.6L474.7 821.2L476.2 822.8L477.7 824.4L479.2 825.9L480.7 827.3L482.2 828.6L483.7 829.8L485.2 831L486.7 832.1L488.2 833.2L489.7 834.1L491.2 835L492.7 835.9L494.2 836.7L495.7 837.4L497.2 838L498.7 838.6L500.2 839.2L501.7 839.7L503.2 840.2L504.7 840.6L506.2 841L507.7 841.3L509.2 841.7L510.7 842L512.2 842.2L513.7 842.5L515.2 842.7L516.7 842.9L518.2 843.1L519.7 843.2" fill="none" stroke="#f00" stroke-width="1.8" stroke-linejoin="round" />
<path d="M174.1 845.3L175.3 844.5L176.6 842.1L177.8 838.2L179 833.2L180.2 827.4L181.5 821.2L182.7 815L183.9 809.1L185.2 804.2L186.4 800.3L187.6 797.9L188.8 797.1L190.1 797.9L191.3 800.3L192.5 804.2L193.8 809.1L195 815L196.2 821.2L197.5 827.4L198.7 833.2L199.9 838.2L201.1 842.1L202.4 844.5L203.6 845.3L205 845.3L205 658.8L205.2 658.8L205.8 671.7L206.4 682.9L207 692.7L207.6 701.3L208.2 708.8L208.8 715.4L209.4 721.2L210 726.3L210.6 730.8L211.2 734.8L211.8 738.3L212.4 741.5L213 744.3L213.6 746.8L214.2 749.1L214.8 751.1L215.4 752.9L216 754.6L216.6 756.1L217.2 757.5L217.8 758.7L218.4 759.8L219 760.9L219.6 761.8L220.2 762.7L220.8 763.5L221.4 764.3L222 765L222.6 765.6L223.2 766.2L223.8 766.8L224.4 767.3L225 767.8L225.6 768.3L226.2 768.7L226.8 769.1L227.4 769.4L228 769.8L228.6 770.1L229.2 770.4L229.8 770.6L230.4 770.9L231 771.2L231.6 771.4L232.2 771.6L232.8 771.8L233.4 772L234 772.2L234.6 772.4L235.2 772.5L235.8 772.7L237.3 773L238.8 773.3L240.3 773.6L241.8 773.8L243.3 774L244.8 774.1L246.3 774.2L247.8 774.3L249.3 774.4L250.8 774.5L252.3 774.6L253.8 774.6L255.3 774.6L256.8 774.6L258.3 774.7L259.8 774.7L261.3 774.6L262.8 774.6L264.3 774.6L265.8 774.6L267.3 774.6L268.8 774.5L270.3 774.5L271.8 774.5L273.3 774.4L274.8 774.4L276.3 774.3L277.8 774.3L279.3 774.2L280.8 774.2L282.3 774.1L283.8 774.1L285.3 774L286.8 774L288.3 773.9L289.8 773.8L291.3 773.8L292.8 773.7L294.3 773.7L295.8 773.6L297.3 773.5L298.8 773.5L300.3 773.4L301.8 773.4L303.3 773.3L304.8 773.2L306.3 773.2L307.8 773.1L309.3 773.1L310.8 773L312.3 772.9L313.8 772.9L315.3 772.8L316.8 772.8L318.3 772.7L319.8 772.6L321.3 772.6L322.8 772.5L324.3 772.4L325.8 772.4L327.3 772.3L328.8 772.3L330.3 772.2L331.8 772.2L333.3 772.2L334.8 772.2L336.3 772.2L337.8 772.2L339.3 772.2L340.8 772.2L342.3 772.2L343.8 772.2L345.3 772.2L346.8 772.2L348.3 772.2L349.8 772.2L351.3 772.2L352.8 772.2L354.3 772.2L355.8 772.2L357.3 772.2L358.8 772.2L360.3 772.2L361.8 772.2L363.3 772.2L364.8 772.3L366.3 772.3L367.8 772.3L369.3 772.3L370.8 772.3L372.3 772.3L373.8 772.3L375.3 772.3L376.8 772.3L378.3 772.3L379.8 772.3L381.3 772.4L382.8 772.4L384.3 772.4L385.8 772.4L387.3 772.4L388.8 772.5L390.3 772.5L391.8 772.5L393.3 772.6L394.8 772.6L396.3 772.6L397.8 772.7L399.3 772.7L400.8 772.8L402.3 772.9L403.8 772.9L405.3 773L406.8 773.1L408.3 773.2L409.8 773.3L411.3 773.4L412.8 773.5L414.3 773.7L415.8 773.8L417.3 774L418.8 774.2L420.3 774.4L421.8 774.6L423.3 774.9L424.8 775.1L426.3 775.4L427.8 775.8L429.3 776.1L430.8 776.5L432.3 777L433.8 777.5L435.3 778L436.8 778.6L438.3 779.2L439.8 779.9L441.3 780.6L442.8 781.4L444.3 782.2L445.8 783.2L447.3 784.2L448.8 785.2L450.3 786.4L451.8 787.6L453.3 788.8L454.8 790.2L456.3 791.6L457.8 793.1L459.3 794.7L460.8 796.3L462.3 798L463.8 799.7L465.3 801.5L466.8 803.3L468.3 805.2L469.8 807L471.3 808.9L472.8 810.7L474.3 812.6L475.8 814.4L477.3 816.2L478.8 818L480.3 819.7L481.8 821.3L483.3 822.9L484.8 824.5L486.3 826L487.8 827.3L489.3 828.7L490.8 829.9L492.3 831.1L493.8 832.2L495.3 833.2L496.8 834.2L498.3 835.1L499.8 835.9L501.3 836.7L502.8 837.4L504.3 838.1L505.8 838.7L507.3 839.2L508.8 839.7L510.3 840.2L511.8 840.6L513.3 841L514.8 841.4L516.3 841.7L517.8 842L519.3 842.2L520.8 842.5L522.3 842.7L523.8 842.9L525.3 843.1L526.8 843.2L528.3 843.4L529.8 843.5" fill="none" stroke="#f00" stroke-width="1.8" stroke-linejoin="round" />
<path d="M201.8 845.3L203 844.4L204.1 841.9L205.3 837.8L206.4 832.4L207.6 826.3L208.7 819.6L209.9 812.9L211 806.8L212.2 801.4L213.3 797.3L214.5 794.8L215.7 793.9L216.8 794.8L218 797.3L219.1 801.4L220.3 806.8L221.4 812.9L222.6 819.6L223.7 826.3L224.9 832.4L226 837.8L227.2 841.9L228.3 844.4L229.5 845.3L230.9 845.3L230.9 657.9L231.1 657.9L231.7 670.8L232.3 682.1L232.9 692L233.5 700.6L234.1 708.1L234.7 714.7L235.3 720.5L235.9 725.6L236.5 730.2L237.1 734.1L237.7 737.7L238.3 740.8L238.9 743.6L239.5 746.1L240.1 748.4L240.7 750.4L241.3 752.2L241.9 753.9L242.5 755.3L243.1 756.7L243.7 757.9L244.3 759L244.9 760L245.5 761L246.1 761.8L246.7 762.6L247.3 763.4L247.9 764L248.5 764.7L249.1 765.2L249.7 765.8L250.3 766.3L250.9 766.8L251.5 767.2L252.1 767.6L252.7 768L253.3 768.3L253.9 768.7L254.5 769L255.1 769.3L255.7 769.6L256.3 769.8L256.9 770.1L257.5 770.3L258.1 770.5L258.7 770.7L259.3 770.9L259.9 771.1L260.5 771.3L261.1 771.4L261.7 771.6L263.2 771.9L264.7 772.2L266.2 772.5L267.7 772.7L269.2 772.9L270.7 773L272.2 773.2L273.7 773.3L275.2 773.3L276.7 773.4L278.2 773.5L279.7 773.5L281.2 773.5L282.7 773.6L284.2 773.6L285.7 773.6L287.2 773.6L288.7 773.5L290.2 773.5L291.7 773.5L293.2 773.5L294.7 773.4L296.2 773.4L297.7 773.4L299.2 773.3L300.7 773.3L302.2 773.2L303.7 773.2L305.2 773.1L306.7 773.1L308.2 773L309.7 773L311.2 772.9L312.7 772.9L314.2 772.8L315.7 772.8L317.2 772.7L318.7 772.6L320.2 772.6L321.7 772.5L323.2 772.5L324.7 772.4L326.2 772.3L327.7 772.3L329.2 772.2L330.7 772.2L332.2 772.2L333.7 772.2L335.2 772.2L336.7 772.2L338.2 772.2L339.7 772.2L341.2 772.2L342.7 772.2L344.2 772.2L345.7 772.2L347.2 772.2L348.7 772.2L350.2 772.2L351.7 772.2L353.2 772.2L354.7 772.2L356.2 772.2L357.7 772.2L359.2 772.2L360.7 772.2L362.2 772.2L363.7 772.2L365.2 772.2L366.7 772.2L368.2 772.2L369.7 772.2L371.2 772.2L372.7 772.2L374.2 772.2L375.7 772.2L377.2 772.2L378.7 772.2L380.2 772.2L381.7 772.2L383.2 772.2L384.7 772.2L386.2 772.2L387.7 772.2L389.2 772.2L390.7 772.2L392.2 772.2L393.7 772.2L395.2 772.3L396.7 772.3L398.2 772.3L399.7 772.3L401.2 772.3L402.7 772.3L404.2 772.3L405.7 772.3L407.2 772.3L408.7 772.3L410.2 772.3L411.7 772.4L413.2 772.4L414.7 772.4L416.2 772.4L417.7 772.4L419.2 772.5L420.7 772.5L422.2 772.5L423.7 772.6L425.2 772.6L426.7 772.6L428.2 772.7L429.7 772.7L431.2 772.8L432.7 772.9L434.2 772.9L435.7 773L437.2 773.1L438.7 773.2L440.2 773.3L441.7 773.4L443.2 773.6L444.7 773.7L446.2 773.9L447.7 774L449.2 774.2L450.7 774.4L452.2 774.7L453.7 774.9L455.2 775.2L456.7 775.5L458.2 775.9L459.7 776.3L461.2 776.7L462.7 777.1L464.2 777.6L465.7 778.1L467.2 778.7L468.7 779.4L470.2 780.1L471.7 780.8L473.2 781.6L474.7 782.5L476.2 783.4L477.7 784.4L479.2 785.5L480.7 786.7L482.2 787.9L483.7 789.2L485.2 790.6L486.7 792L488.2 793.5L489.7 795.1L491.2 796.8L492.7 798.5L494.2 800.2L495.7 802L497.2 803.8L498.7 805.6L500.2 807.5L501.7 809.4L503.2 811.2L504.7 813.1L506.2 814.9L507.7 816.7L509.2 818.4L510.7 820.1L512.2 821.8L513.7 823.4L515.2 824.9L516.7 826.3L518.2 827.7L519.7 829L521.2 830.2L522.7 831.4L524.2 832.5L525.7 833.5L527.2 834.5L528.7 835.3L530.2 836.1L531.7 836.9L533.2 837.6L534.7 838.2L536.2 838.8L537.7 839.4L539.2 839.9L540.7 840.3L542.2 840.7L543.7 841.1L545.2 841.4L546.7 841.8L548.2 842L549.7 842.3L551.2 842.5L552.7 842.8L554.2 842.9L555.7 843.1L557.2 843.3L558.7 843.4" fill="none" stroke="#f00" stroke-width="1.8" stroke-linejoin="round" />
<path d="M237.5 845.3L238.8 844.3L240 841.4L241.3 836.7L242.6 830.6L243.8 823.5L245.1 815.9L246.4 808.2L247.6 801.1L248.9 795L250.2 790.3L251.4 787.4L252.7 786.4L254 787.4L255.2 790.3L256.5 795L257.8 801.1L259 808.2L260.3 815.8L261.6 823.5L262.8 830.6L264.1 836.7L265.4 841.4L266.6 844.3L267.9 845.3L268.8 845.3L268.8 657.9L268.9 657.9L269.6 670.7L270.2 681.8L270.8 691.5L271.4 700L272 707.4L272.6 713.9L273.2 719.7L273.8 724.7L274.4 729.2L275 733.1L275.6 736.6L276.2 739.7L276.8 742.5L277.4 745L278 747.2L278.6 749.2L279.2 751L279.8 752.6L280.4 754L281 755.4L281.6 756.6L282.2 757.7L282.8 758.7L283.4 759.6L284 760.4L284.6 761.2L285.2 761.9L285.8 762.6L286.4 763.2L287 763.8L287.6 764.3L288.2 764.8L288.8 765.3L289.4 765.7L290 766.1L290.6 766.5L291.2 766.9L291.8 767.2L292.4 767.5L293 767.8L293.6 768.1L294.2 768.3L294.8 768.6L295.4 768.8L296 769L296.6 769.2L297.2 769.4L297.8 769.6L298.4 769.7L299 769.9L300.5 770.3L302 770.6L303.5 770.8L305 771.1L306.5 771.2L308 771.4L309.5 771.5L311 771.7L312.5 771.7L314 771.8L315.5 771.9L317 771.9L318.5 772L320 772L321.5 772L323 772L324.5 772L326 772L327.5 772L329 771.9L330.5 771.9L332 772L333.5 772L335 772L336.5 772L338 772.1L339.5 772.1L341 772.1L342.5 772.1L344 772.1L345.5 772.1L347 772.1L348.5 772.1L350 772.1L351.5 772.1L353 772.2L354.5 772.2L356 772.2L357.5 772.2L359 772.2L360.5 772.2L362 772.2L363.5 772.2L365 772.2L366.5 772.2L368 772.2L369.5 772.2L371 772.2L372.5 772.2L374 772.2L375.5 772.2L377 772.2L378.5 772.2L380 772.2L381.5 772.2L383 772.2L384.5 772.2L386 772.2L387.5 772.2L389 772.2L390.5 772.2L392 772.2L393.5 772.2L395 772.2L396.5 772.2L398 772.2L399.5 772.2L401 772.2L402.5 772.2L404 772.2L405.5 772.2L407 772.2L408.5 772.2L410 772.2L411.5 772.2L413 772.2L414.5 772.2L416 772.2L417.5 772.2L419 772.2L420.5 772.2L422 772.2L423.5 772.2L425 772.2L426.5 772.2L428 772.2L429.5 772.2L431 772.2L432.5 772.2L434 772.2L435.5 772.2L437 772.3L438.5 772.3L440 772.3L441.5 772.3L443 772.3L444.5 772.3L446 772.3L447.5 772.3L449 772.3L450.5 772.3L452 772.4L453.5 772.4L455 772.4L456.5 772.4L458 772.4L459.5 772.5L461 772.5L462.5 772.5L464 772.5L465.5 772.6L467 772.6L468.5 772.7L470 772.7L471.5 772.8L473 772.8L474.5 772.9L476 773L477.5 773.1L479 773.2L480.5 773.3L482 773.4L483.5 773.5L485 773.6L486.5 773.8L488 773.9L489.5 774.1L491 774.3L492.5 774.6L494 774.8L495.5 775.1L497 775.4L498.5 775.7L500 776.1L501.5 776.5L503 776.9L504.5 777.4L506 777.9L507.5 778.4L509 779L510.5 779.7L512 780.4L513.5 781.2L515 782L516.5 782.9L518 783.9L519.5 785L521 786.1L522.5 787.3L524 788.5L525.5 789.9L527 791.3L528.5 792.8L530 794.3L531.5 795.9L533 797.6L534.5 799.3L536 801.1L537.5 802.9L539 804.7L540.5 806.6L542 808.4L543.5 810.3L545 812.2L546.5 814L548 815.8L549.5 817.6L551 819.3L552.5 821L554 822.6L555.5 824.1L557 825.6L558.5 827L560 828.4L561.5 829.6L563 830.8L564.5 832L566 833L567.5 834L569 834.9L570.5 835.7L572 836.5L573.5 837.3L575 837.9L576.5 838.5L578 839.1L579.5 839.6L581 840.1L582.5 840.5L584 840.9L585.5 841.3L587 841.6L588.5 841.9L590 842.2L591.5 842.4L593 842.7L594.5 842.9L596 843L597.5 843.2L599 843.4L600.5 843.5L602 843.6L603.5 843.7L605 843.8" fill="none" stroke="#f00" stroke-width="1.8" stroke-linejoin="round" />
<path d="M291.6 780L292.9 845.3L294.1 844.7L295.3 843L296.5 840.2L297.8 836.6L299 832.4L300.2 827.9L301.4 823.4L302.6 819.2L303.8 815.6L305 812.8L306.2 811.1L307.4 810.5L308.7 811.1L309.9 812.8L311.1 815.6L312.3 819.2L313.5 823.4L314.7 827.9L315.9 832.4L317.1 836.6L318.4 840.2L319.6 843L320.8 844.7L322 845.3L322.7 845.3L322.7 686.4L322.9 686.4L323.5 695.8L324.1 704L324.7 711.2L325.3 717.4L325.9 722.9L326.5 727.7L327.1 731.9L327.7 735.6L328.3 738.9L328.9 741.8L329.5 744.3L330.1 746.6L330.7 748.7L331.3 750.5L331.9 752.2L332.5 753.6L333.1 755L333.7 756.2L334.3 757.3L334.9 758.3L335.5 759.2L336.1 760L336.7 760.8L337.3 761.5L337.9 762.1L338.5 762.7L339.1 763.2L339.7 763.7L340.3 764.2L340.9 764.7L341.5 765.1L342.1 765.4L342.7 765.8L343.3 766.1L343.9 766.5L344.5 766.8L345.1 767L345.7 767.3L346.3 767.5L346.9 767.8L347.5 768L348.1 768.2L348.7 768.4L349.3 768.6L349.9 768.8L350.5 768.9L351.1 769.1L351.7 769.2L352.3 769.4L352.9 769.5L354.4 769.8L355.9 770.1L357.4 770.4L358.9 770.6L360.4 770.8L361.9 770.9L363.4 771.1L364.9 771.2L366.4 771.3L367.9 771.4L369.4 771.5L370.9 771.6L372.4 771.7L373.9 771.7L375.4 771.8L376.9 771.8L378.4 771.9L379.9 771.9L381.4 771.9L382.9 772L384.4 772L385.9 772L387.4 772L388.9 772.1L390.4 772.1L391.9 772.1L393.4 772.1L394.9 772.1L396.4 772.1L397.9 772.1L399.4 772.1L400.9 772.1L402.4 772.2L403.9 772.2L405.4 772.2L406.9 772.2L408.4 772.2L409.9 772.2L411.4 772.2L412.9 772.2L414.4 772.2L415.9 772.2L417.4 772.2L418.9 772.2L420.4 772.2L421.9 772.2L423.4 772.2L424.9 772.2L426.4 772.2L427.9 772.2L429.4 772.2L430.9 772.2L432.4 772.2L433.9 772.2L435.4 772.2L436.9 772.2L438.4 772.2L439.9 772.2L441.4 772.2L442.9 772.2L444.4 772.2L445.9 772.2L447.4 772.2L448.9 772.2L450.4 772.2L451.9 772.2L453.4 772.2L454.9 772.2L456.4 772.2L457.9 772.2L459.4 772.2L460.9 772.2L462.4 772.2L463.9 772.2L465.4 772.2L466.9 772.2L468.4 772.2L469.9 772.2L471.4 772.3L472.9 772.3L474.4 772.3L475.9 772.3L477.4 772.3L478.9 772.3L480.4 772.3L481.9 772.3L483.4 772.3L484.9 772.3L486.4 772.3L487.9 772.4L489.4 772.4L490.9 772.4L492.4 772.4L493.9 772.4L495.4 772.5L496.9 772.5L498.4 772.5L499.9 772.6L501.4 772.6L502.9 772.6L504.4 772.7L505.9 772.7L507.4 772.8L508.9 772.9L510.4 772.9L511.9 773L513.4 773.1L514.9 773.2L516.4 773.3L517.9 773.4L519.4 773.5L520.9 773.7L522.4 773.8L523.9 774L525.4 774.2L526.9 774.4L528.4 774.6L529.9 774.9L531.4 775.2L532.9 775.5L534.4 775.8L535.9 776.2L537.4 776.6L538.9 777L540.4 777.5L541.9 778L543.4 778.6L544.9 779.2L546.4 779.9L547.9 780.6L549.4 781.4L550.9 782.3L552.4 783.2L553.9 784.2L555.4 785.3L556.9 786.4L558.4 787.6L559.9 788.9L561.4 790.3L562.9 791.7L564.4 793.2L565.9 794.8L567.4 796.4L568.9 798.1L570.4 799.8L571.9 801.6L573.4 803.4L574.9 805.3L576.4 807.1L577.9 809L579.4 810.9L580.9 812.7L582.4 814.5L583.9 816.3L585.4 818.1L586.9 819.8L588.4 821.5L589.9 823.1L591.4 824.6L592.9 826L594.4 827.4L595.9 828.8L597.4 830L598.9 831.2L600.4 832.3L601.9 833.3L603.4 834.3L604.9 835.2L606.4 836L607.9 836.8L609.4 837.5L610.9 838.1L612.4 838.7L613.9 839.3L615.4 839.8L616.9 840.2L618.4 840.6L619.9 841L621.4 841.4L622.9 841.7L624.4 842L625.9 842.3L627.4 842.5L628.9 842.7L630.4 842.9L631.9 843.1L633.4 843.3L634.9 843.4L636.4 843.5L637.9 843.7L639.4 843.8" fill="none" stroke="#f00" stroke-width="1.8" stroke-linejoin="round" />
<path d="M350 795L351.5 845.3L352.7 844.8L353.9 843.2L355.1 840.7L356.4 837.5L357.6 833.7L358.8 829.7L360 825.7L361.2 821.9L362.4 818.7L363.7 816.2L364.9 814.6L366.1 814.1L367.3 814.6L368.5 816.2L369.8 818.7L371 821.9L372.2 825.7L373.4 829.7L374.6 833.7L375.8 837.5L377.1 840.7L378.3 843.2L379.5 844.8L380.7 845.3L381.6 845.3L381.6 707.9L381.8 707.9L382.4 714.9L383 721.1L383.6 726.4L384.2 731.1L384.8 735.2L385.4 738.8L386 741.9L386.6 744.7L387.2 747.2L387.8 749.4L388.4 751.3L389 753L389.6 754.6L390.2 756L390.8 757.2L391.4 758.3L392 759.3L392.6 760.2L393.2 761L393.8 761.8L394.4 762.4L395 763.1L395.6 763.6L396.2 764.1L396.8 764.6L397.4 765.1L398 765.5L398.6 765.9L399.2 766.2L399.8 766.5L400.4 766.9L401 767.1L401.6 767.4L402.2 767.7L402.8 767.9L403.4 768.1L404 768.3L404.6 768.5L405.2 768.7L405.8 768.9L406.4 769.1L407 769.2L407.6 769.4L408.2 769.5L408.8 769.6L409.4 769.8L410 769.9L410.6 770L411.2 770.1L411.8 770.2L413.3 770.4L414.8 770.6L416.3 770.8L417.8 771L419.3 771.1L420.8 771.2L422.3 771.4L423.8 771.4L425.3 771.5L426.8 771.6L428.3 771.7L429.8 771.7L431.3 771.8L432.8 771.8L434.3 771.9L435.8 771.9L437.3 771.9L438.8 772L440.3 772L441.8 772L443.3 772L444.8 772.1L446.3 772.1L447.8 772.1L449.3 772.1L450.8 772.1L452.3 772.1L453.8 772.1L455.3 772.1L456.8 772.1L458.3 772.2L459.8 772.2L461.3 772.2L462.8 772.2L464.3 772.2L465.8 772.2L467.3 772.2L468.8 772.2L470.3 772.2L471.8 772.2L473.3 772.2L474.8 772.2L476.3 772.2L477.8 772.2L479.3 772.2L480.8 772.2L482.3 772.2L483.8 772.2L485.3 772.2L486.8 772.2L488.3 772.2L489.8 772.2L491.3 772.2L492.8 772.2L494.3 772.2L495.8 772.2L497.3 772.2L498.8 772.2L500.3 772.2L501.8 772.2L503.3 772.2L504.8 772.2L506.3 772.2L507.8 772.2L509.3 772.2L510.8 772.2L512.3 772.2L513.8 772.2L515.3 772.2L516.8 772.2L518.3 772.2L519.8 772.2L521.3 772.2L522.8 772.3L524.3 772.3L525.8 772.3L527.3 772.3L528.8 772.3L530.3 772.3L531.8 772.3L533.3 772.3L534.8 772.3L536.3 772.3L537.8 772.3L539.3 772.4L540.8 772.4L542.3 772.4L543.8 772.4L545.3 772.4L546.8 772.5L548.3 772.5L549.8 772.5L551.3 772.6L552.8 772.6L554.3 772.6L555.8 772.7L557.3 772.7L558.8 772.8L560.3 772.9L561.8 772.9L563.3 773L564.8 773.1L566.3 773.2L567.8 773.3L569.3 773.4L570.8 773.5L572.3 773.7L573.8 773.8L575.3 774L576.8 774.2L578.3 774.4L579.8 774.6L581.3 774.9L582.8 775.1L584.3 775.4L585.8 775.8L587.3 776.1L588.8 776.5L590.3 777L591.8 777.5L593.3 778L594.8 778.6L596.3 779.2L597.8 779.9L599.3 780.6L600.8 781.4L602.3 782.2L603.8 783.2L605.3 784.2L606.8 785.2L608.3 786.4L609.8 787.6L611.3 788.8L612.8 790.2L614.3 791.6L615.8 793.1L617.3 794.7L618.8 796.3L620.3 798L621.8 799.7L623.3 801.5L624.8 803.3L626.3 805.2L627.8 807L629.3 808.9L630.8 810.7L632.3 812.6L633.8 814.4L635.3 816.2L636.8 818L638.3 819.7L639.8 821.3L641.3 822.9L642.8 824.5L644.3 826L645.8 827.3L647.3 828.7L648.8 829.9L650.3 831.1L651.8 832.2L653.3 833.2L654.8 834.2L656.3 835.1L657.8 835.9" fill="none" stroke="#f00" stroke-width="1.8" stroke-linejoin="round" />
<path d="M485.5 845.3L486.7 844.6L487.9 842.6L489 839.5L490.2 835.4L491.4 830.6L492.6 825.4L493.8 820.2L494.9 815.5L496.1 811.3L497.3 808.2L498.5 806.2L499.6 805.5L500.8 806.2L502 808.2L503.2 811.3L504.4 815.4L505.5 820.2L506.7 825.4L507.9 830.6L509.1 835.4L510.3 839.5L511.4 842.6L512.6 844.6L513.8 845.3L515 845.3L515 690.5L515.2 690.5L515.8 699.4L516.4 707.2L517 714L517.6 720L518.2 725.2L518.8 729.7L519.4 733.8L520 737.3L520.6 740.4L521.2 743.2L521.8 745.7L522.4 747.9L523 749.8L523.6 751.6L524.2 753.1L524.8 754.5L525.4 755.8L526 756.9L526.6 758L527.2 758.9L527.8 759.8L528.4 760.6L529 761.3L529.6 762L530.2 762.6L530.8 763.1L531.4 763.7L532 764.1L532.6 764.6L533.2 765L533.8 765.4L534.4 765.8L535 766.1L535.6 766.4L536.2 766.7L536.8 767L537.4 767.3L538 767.5L538.6 767.8L539.2 768L539.8 768.2L540.4 768.4L541 768.6L541.6 768.8L542.2 768.9L542.8 769.1L543.4 769.2L544 769.4L544.6 769.5L545.2 769.7L546.7 770L548.2 770.2L549.7 770.4L551.2 770.6L552.7 770.8L554.2 771L555.7 771.1L557.2 771.2L558.7 771.4L560.2 771.5L561.7 771.5L563.2 771.6L564.7 771.7L566.2 771.7L567.7 771.8L569.2 771.8L570.7 771.9L572.2 771.9L573.7 771.9L575.2 772L576.7 772L578.2 772L579.7 772L581.2 772.1L582.7 772.1L584.2 772.1L585.7 772.1L587.2 772.1L588.7 772.1L590.2 772.1L591.7 772.1L593.2 772.1L594.7 772.2L596.2 772.2L597.7 772.2L599.2 772.2L600.7 772.2L602.2 772.2L603.7 772.2L605.2 772.2L606.7 772.2L608.2 772.2L609.7 772.2L611.2 772.2L612.7 772.2L614.2 772.2L615.7 772.2L617.2 772.2L618.7 772.2L620.2 772.2L621.7 772.2L623.2 772.2L624.7 772.2L626.2 772.2L627.7 772.2L629.2 772.2L630.7 772.2L632.2 772.2L633.7 772.2L635.2 772.2L636.7 772.2L638.2 772.2L639.7 772.2L641.2 772.2L642.7 772.2L644.2 772.2L645.7 772.2L647.2 772.2L648.7 772.2L650.2 772.2L651.7 772.2L653.2 772.2L654.7 772.2L656.2 772.2L657.7 772.2" fill="none" stroke="#f00" stroke-width="1.8" stroke-linejoin="round" />
<path d="M511.8 845.3L513 844.6L514.1 842.5L515.3 839.3L516.5 835L517.7 830L518.9 824.6L520 819.3L521.2 814.3L522.4 810L523.5 806.8L524.7 804.7L525.9 804L527.1 804.7L528.2 806.8L529.4 810L530.6 814.3L531.8 819.3L533 824.6L534.1 830L535.3 835L536.5 839.3L537.6 842.5L538.8 844.6L540 845.3L541.2 845.3L541.2 686L541.5 686L542.1 695.4L542.7 703.6L543.3 710.8L543.9 717.1L544.5 722.6L545.1 727.4L545.7 731.6L546.3 735.4L546.9 738.7L547.5 741.6L548.1 744.2L548.7 746.5L549.3 748.6L549.9 750.4L550.5 752.1L551.1 753.6L551.7 754.9L552.3 756.1L552.9 757.2L553.5 758.2L554.1 759.1L554.7 759.9L555.3 760.7L555.9 761.4L556.5 762L557.1 762.6L557.7 763.2L558.3 763.7L558.9 764.2L559.5 764.6L560.1 765L560.7 765.4L561.3 765.8L561.9 766.1L562.5 766.4L563.1 766.7L563.7 767L564.3 767.3L564.9 767.5L565.5 767.8L566.1 768L566.7 768.2L567.3 768.4L567.9 768.6L568.5 768.8L569.1 768.9L569.7 769.1L570.3 769.2L570.9 769.4L571.5 769.5L573 769.8L574.5 770.1L576 770.3L577.5 770.6L579 770.7L580.5 770.9L582 771.1L583.5 771.2L585 771.3L586.5 771.4L588 771.5L589.5 771.6L591 771.7L592.5 771.7L594 771.8L595.5 771.8L597 771.9L598.5 771.9L600 771.9L601.5 772L603 772L604.5 772L606 772L607.5 772.1L609 772.1L610.5 772.1L612 772.1L613.5 772.1L615 772.1L616.5 772.1L618 772.1L619.5 772.1L621 772.2L622.5 772.2L624 772.2L625.5 772.2L627 772.2L628.5 772.2L630 772.2L631.5 772.2L633 772.2L634.5 772.2L636 772.2L637.5 772.2L639 772.2L640.5 772.2L642 772.2L643.5 772.2L645 772.2L646.5 772.2L648 772.2L649.5 772.2L651 772.2L652.5 772.2L654 772.2L655.5 772.2L657 772.2L658.5 772.2" fill="none" stroke="#f00" stroke-width="1.8" stroke-linejoin="round" />
<path d="M530.5 845.3L531.7 844.6L532.8 842.5L534 839.2L535.2 834.9L536.3 829.8L537.5 824.4L538.7 819L539.8 814L541 809.6L542.2 806.3L543.3 804.2L544.5 803.5L545.7 804.2L546.8 806.3L548 809.6L549.2 813.9L550.3 819L551.5 824.4L552.7 829.8L553.8 834.9L555 839.2L556.2 842.5L557.3 844.6L558.5 845.3L559.8 845.3L559.8 682.3L560 682.3L560.6 692.1L561.2 700.7L561.8 708.2L562.4 714.7L563 720.4L563.6 725.5L564.2 729.9L564.8 733.8L565.4 737.2L566 740.3L566.6 743L567.2 745.4L567.8 747.6L568.4 749.5L569 751.2L569.6 752.8L570.2 754.1L570.8 755.4L571.4 756.6L572 757.6L572.6 758.5L573.2 759.4L573.8 760.2L574.4 760.9L575 761.6L575.6 762.2L576.2 762.8L576.8 763.3L577.4 763.8L578 764.3L578.6 764.7L579.2 765.1L579.8 765.5L580.4 765.9L581 766.2L581.6 766.5L582.2 766.8L582.8 767.1L583.4 767.3L584 767.6L584.6 767.8L585.2 768L585.8 768.2L586.4 768.4L587 768.6L587.6 768.8L588.2 769L588.8 769.1L589.4 769.3L590 769.4L591.5 769.7L593 770L594.5 770.3L596 770.5L597.5 770.7L599 770.9L600.5 771L602 771.1L603.5 771.3L605 771.4L606.5 771.5L608 771.6L609.5 771.6L611 771.7L612.5 771.8L614 771.8L615.5 771.8L617 771.9L618.5 771.9L620 772L621.5 772L623 772L624.5 772L626 772L627.5 772.1L629 772.1L630.5 772.1L632 772.1L633.5 772.1L635 772.1L636.5 772.1L638 772.1L639.5 772.1L641 772.2L642.5 772.2L644 772.2L645.5 772.2L647 772.2L648.5 772.2L650 772.2L651.5 772.2L653 772.2L654.5 772.2L656 772.2L657.5 772.2" fill="none" stroke="#f00" stroke-width="1.8" stroke-linejoin="round" />
<path d="M539.3 845.3L540.4 844.6L541.5 842.4L542.7 839L543.8 834.6L544.9 829.4L546 823.9L547.2 818.4L548.3 813.2L549.4 808.8L550.5 805.4L551.7 803.2L552.8 802.5L553.9 803.2L555 805.4L556.2 808.8L557.3 813.2L558.4 818.4L559.5 823.9L560.7 829.4L561.8 834.6L562.9 839L564 842.4L565.2 844.6L566.3 845.3L567.5 845.3L567.5 681.8L567.7 681.8L568.3 691.7L568.9 700.3L569.5 707.8L570.1 714.4L570.7 720.2L571.3 725.2L571.9 729.7L572.5 733.6L573.1 737.1L573.7 740.1L574.3 742.8L574.9 745.3L575.5 747.4L576.1 749.4L576.7 751.1L577.3 752.6L577.9 754L578.5 755.3L579.1 756.5L579.7 757.5L580.3 758.5L580.9 759.3L581.5 760.1L582.1 760.9L582.7 761.6L583.3 762.2L583.9 762.8L584.5 763.3L585.1 763.8L585.7 764.3L586.3 764.7L586.9 765.1L587.5 765.5L588.1 765.8L588.7 766.2L589.3 766.5L589.9 766.8L590.5 767L591.1 767.3L591.7 767.5L592.3 767.8L592.9 768L593.5 768.2L594.1 768.4L594.7 768.6L595.3 768.8L595.9 768.9L596.5 769.1L597.1 769.2L597.7 769.4L599.2 769.7L600.7 770L602.2 770.3L603.7 770.5L605.2 770.7L606.7 770.9L608.2 771L609.7 771.1L611.2 771.3L612.7 771.4L614.2 771.5L615.7 771.6L617.2 771.6L618.7 771.7L620.2 771.7L621.7 771.8L623.2 771.8L624.7 771.9L626.2 771.9L627.7 772L629.2 772L630.7 772L632.2 772L633.7 772L635.2 772.1L636.7 772.1L638.2 772.1L639.7 772.1L641.2 772.1L642.7 772.1L644.2 772.1L645.7 772.1L647.2 772.1L648.7 772.2L650.2 772.2L651.7 772.2L653.2 772.2L654.7 772.2L656.2 772.2L657.7 772.2" fill="none" stroke="#f00" stroke-width="1.8" stroke-linejoin="round" />
<path d="M151 846.2C157.1 846.2 177.2 846.4 187.5 846.2C197.8 846.1 206.2 846.1 212.5 845.5C218.8 844.9 221.2 843.8 225 842.5C228.8 841.2 232.3 839.9 235 837.5C237.7 835.1 239.6 832.6 241.2 828C242.9 823.4 244 819.2 245 809.8C246 800.2 246.6 787.9 247.2 771C247.9 754.1 248.3 726.3 248.8 708.5C249.2 690.7 249.8 671.4 250 664L250 664C250.2 670.2 250.9 688.6 251.5 701C252.1 713.4 252.8 728.7 253.8 738.5C254.8 748.3 256 754.3 257.5 759.8C259 765.2 260.4 768.1 262.5 771C264.6 773.9 267.1 775.7 270 777.2C272.9 778.8 275 779.3 280 780.2C285 781.2 292.5 781.9 300 782.8C307.5 783.6 318.8 784.2 325 785.2C331.2 786.2 333.3 787.1 337.5 788.8C341.7 790.4 345.8 792.3 350 795C354.2 797.7 358.3 801.4 362.5 805C366.7 808.6 370.8 812.8 375 816.5C379.2 820.2 383.3 824.4 387.5 827.5C391.7 830.6 396.4 833.1 400 835C403.6 836.9 405.3 837.5 409.1 839C413 840.6 416.8 843.2 422.9 844.4C429 845.6 434.3 846 445.7 846.4C457.1 846.7 455.9 846.6 491.4 846.7C526.9 846.7 630.7 846.7 658.6 846.7" fill="none" stroke="#000" stroke-width="6.8" stroke-linejoin="round" stroke-linecap="butt"/>
<path d="M722.6 798L722.6 842.4L723.4 842.4L724.6 842L725.8 841L727 839.3L728.2 837.1L729.4 834.6L730.6 831.9L731.8 829.2L733 826.6L734.2 824.5L735.4 822.8L736.6 821.8L737.8 821.4L739 821.8L740.2 822.8L741.4 824.5L742.6 826.6L743.8 829.2L745 831.9L746.2 834.6L747.4 837.1L748.6 839.3L749.8 841L751 842L752.2 842.4" fill="none" stroke="#f00" stroke-width="1.8" stroke-linejoin="round" />
<path d="M729.3 816L729.3 842.4L730.1 842.4L731.3 842.1L732.6 841.1L733.8 839.7L735.1 837.7L736.3 835.5L737.6 833.1L738.9 830.6L740.1 828.4L741.4 826.4L742.6 825L743.9 824L745.1 823.7L746.4 824L747.6 825L748.9 826.4L750.1 828.4L751.4 830.6L752.6 833L753.9 835.5L755.1 837.7L756.4 839.7L757.6 841.1L758.9 842.1L760.1 842.4" fill="none" stroke="#f00" stroke-width="1.8" stroke-linejoin="round" />
<path d="M755.9 842.4L757.1 842.1L758.3 841.2L759.5 839.7L760.8 837.9L762 835.7L763.2 833.3L764.4 830.9L765.6 828.8L766.9 826.9L768.1 825.4L769.3 824.5L770.5 824.2L771.7 824.5L772.9 825.4L774.1 826.9L775.4 828.8L776.6 830.9L777.8 833.3L779 835.7L780.2 837.9L781.5 839.7L782.7 841.2L783.9 842.1L785.1 842.4" fill="none" stroke="#f00" stroke-width="1.8" stroke-linejoin="round" />
<path d="M793.5 842.4L794.7 842L795.9 841L797.1 839.4L798.4 837.2L799.6 834.7L800.8 832L802 829.3L803.2 826.8L804.5 824.6L805.7 823L806.9 822L808.1 821.6L809.3 822L810.5 823L811.8 824.6L813 826.8L814.2 829.3L815.4 832L816.6 834.7L817.8 837.2L819.1 839.4L820.3 841L821.5 842L822.7 842.4" fill="none" stroke="#f00" stroke-width="1.8" stroke-linejoin="round" />
<path d="M847.4 842.4L848.6 842L849.8 840.8L851 839L852.3 836.6L853.5 833.8L854.7 830.8L855.9 827.8L857.1 825L858.4 822.6L859.6 820.8L860.8 819.6L862 819.2L863.2 819.6L864.4 820.8L865.6 822.6L866.9 825L868.1 827.8L869.3 830.8L870.5 833.8L871.7 836.6L873 839L874.2 840.8L875.4 842L876.6 842.4L879.1 842.4L879.6 838.6L884.6 839.3L886.8 840.4" fill="none" stroke="#f00" stroke-width="1.8" stroke-linejoin="round" />
<path d="M906.4 842.4L907.6 842L908.8 840.7L910 838.7L911.3 836.1L912.5 833.1L913.7 829.9L914.9 826.6L916.1 823.6L917.4 821L918.6 819L919.8 817.7L921 817.3L922.2 817.7L923.4 819L924.6 821L925.9 823.6L927.1 826.6L928.3 829.8L929.5 833.1L930.7 836.1L932 838.7L933.2 840.7L934.4 842L935.6 842.4L938.1 842.4L938.6 837.6L943.6 838.8L950.6 840.4" fill="none" stroke="#f00" stroke-width="1.8" stroke-linejoin="round" />
<path d="M1040.2 842.4L1041.4 842L1042.6 840.6L1043.8 838.5L1045 835.8L1046.2 832.6L1047.5 829.2L1048.7 825.8L1049.9 822.6L1051.1 819.9L1052.3 817.8L1053.5 816.4L1054.8 816L1056 816.4L1057.2 817.8L1058.4 819.9L1059.6 822.6L1060.8 825.8L1062 829.2L1063.3 832.6L1064.5 835.8L1065.7 838.5L1066.9 840.6L1068.1 842L1069.3 842.4L1071.8 842.4L1072.3 837.6L1077.3 838.8L1084.3 840.4" fill="none" stroke="#f00" stroke-width="1.8" stroke-linejoin="round" />
<path d="M1065.9 842.4L1067.1 842L1068.3 840.6L1069.6 838.5L1070.8 835.8L1072 832.6L1073.2 829.2L1074.4 825.8L1075.6 822.6L1076.8 819.9L1078.1 817.8L1079.3 816.4L1080.5 816L1081.7 816.4L1082.9 817.8L1084.2 819.9L1085.4 822.6L1086.6 825.8L1087.8 829.2L1089 832.6L1090.2 835.8L1091.4 838.5L1092.7 840.6L1093.9 842L1095.1 842.4L1097.6 842.4L1098.1 837.6L1103.1 838.8L1110.1 840.4" fill="none" stroke="#f00" stroke-width="1.8" stroke-linejoin="round" />
<path d="M1084.4 842.4L1085.6 841.9L1086.8 840.6L1088.1 838.5L1089.3 835.7L1090.5 832.4L1091.7 829L1092.9 825.5L1094.1 822.2L1095.3 819.4L1096.6 817.3L1097.8 816L1099 815.5L1100.2 816L1101.4 817.3L1102.7 819.4L1103.9 822.2L1105.1 825.5L1106.3 828.9L1107.5 832.4L1108.7 835.7L1109.9 838.5L1111.2 840.6L1112.4 841.9L1113.6 842.4L1116.1 842.4L1116.6 837.6L1121.6 838.8L1128.6 840.4" fill="none" stroke="#f00" stroke-width="1.8" stroke-linejoin="round" />
<path d="M1092.7 842.4L1093.9 841.9L1095.1 840.6L1096.3 838.5L1097.5 835.7L1098.7 832.4L1100 829L1101.2 825.5L1102.4 822.2L1103.6 819.4L1104.8 817.3L1106 816L1107.2 815.5L1108.5 816L1109.7 817.3L1110.9 819.4L1112.1 822.2L1113.3 825.5L1114.5 828.9L1115.8 832.4L1117 835.7L1118.2 838.5L1119.4 840.6L1120.6 841.9L1121.8 842.4L1124.3 842.4L1124.8 837.6L1129.8 838.8L1136.8 840.4" fill="none" stroke="#f00" stroke-width="1.8" stroke-linejoin="round" />
<path d="M707.7 843.4C708.3 843.2 710.2 843 711.3 842C712.4 841 713.4 840.1 714.1 837.4C714.9 834.8 715.3 830.7 715.8 825.9C716.3 821.2 716.6 817.5 716.9 809C717.3 800.5 717.5 784.7 717.8 775.1C718.2 765.6 718.5 756.3 719 751.4C719.4 746.6 720.4 746.7 720.7 745.8L720.7 745.8C720.9 747.9 721.9 752.4 722.3 758.2C722.8 764 723.2 774.2 723.6 780.8C724 787.4 724.3 792.6 724.8 797.7C725.3 802.8 725.9 807.5 726.5 811.3C727.2 815 727.7 817.5 728.8 820.3C729.8 823.1 731.1 825.9 732.7 828.2C734.3 830.5 735.9 832.1 738.4 833.8C740.8 835.5 744 837.1 747.4 838.4C750.8 839.6 753.4 840.4 758.7 841.2C764 841.9 770 842.5 779 842.9C788 843.2 792.7 843.3 812.9 843.4C833 843.5 832.9 843.4 900 843.4C967.1 843.4 1162.9 843.4 1215.5 843.4" fill="none" stroke="#000" stroke-width="6.8" stroke-linejoin="round" stroke-linecap="butt"/>
<path d="M1519 842.2C1519.8 842.2 1521.1 842.8 1524 841.8C1526.9 840.7 1532.3 839.5 1536.5 836C1540.7 832.5 1544.8 826.4 1549 821C1553.2 815.6 1557.5 807.6 1561.5 803.5C1565.5 799.4 1569 796.5 1572.8 796.5C1576.5 796.5 1580 799.4 1584 803.5C1588 807.6 1592.8 815.8 1596.5 821C1600.2 826.2 1603.2 831.3 1606.5 834.8C1609.8 838.2 1614.8 840.6 1616.5 841.8L1618.2 842.2C1618.2 815 1618.2 705.8 1618.2 678.5L1618.2 678.5C1618.8 683.5 1620.1 698.9 1621.5 708.5C1622.9 718.1 1624.4 728.1 1626.5 736C1628.6 743.9 1631.1 750.4 1634 756C1636.9 761.6 1639.8 766 1644 769.8C1648.2 773.5 1653.2 776.5 1659 778.5C1664.8 780.5 1671.5 780.9 1679 781.5C1686.5 782.1 1695.7 782.3 1704 782.2C1712.3 782.2 1719.2 781.3 1729 781C1738.8 780.7 1757.1 780.4 1762.8 780.2" fill="none" stroke="#f00" stroke-width="6.8" stroke-linejoin="round" stroke-linecap="butt"/>
<path d="M1454 842.2C1466.5 842.2 1508.2 842.3 1529 842C1549.8 841.7 1566.5 841.1 1579 840.5C1591.5 839.9 1595.7 839.2 1604 838.2C1612.3 837.2 1621.5 836.1 1629 834.5C1636.5 832.9 1643.6 831.1 1649 828.5C1654.4 825.9 1658.4 823 1661.5 819C1664.6 815 1666.1 811.3 1667.8 804.8C1669.4 798.2 1670.5 791.2 1671.5 779.8C1672.5 768.3 1672.9 752 1673.5 736C1674.1 720 1675 692.2 1675.2 683.5L1675.2 683.5C1675.7 687.7 1676.7 700.6 1677.8 708.5C1678.8 716.4 1680 724.3 1681.5 731C1683 737.7 1684.4 743.1 1686.5 748.5C1688.6 753.9 1691.1 759.3 1694 763.5C1696.9 767.7 1699.8 770.8 1704 773.5C1708.2 776.2 1712.8 778.2 1719 779.8C1725.2 781.2 1734.2 781.9 1741.5 782.5C1748.8 783.1 1759.2 783.3 1762.8 783.5" fill="none" stroke="#000" stroke-width="6.8" stroke-linejoin="round" stroke-linecap="butt"/>
<path d="M186 967C188 968 191.7 971.2 198.3 972.8C204.9 974.4 216.1 974.7 225.7 976.6C235.4 978.5 246 981.3 256.2 984.2C266.3 987.1 276.5 990.9 286.7 994.1C296.8 997.3 307 1000.4 317.1 1003.2C327.3 1006 338.7 1008.7 347.6 1010.9C356.5 1013 364.1 1014.5 370.5 1016.2C376.8 1017.8 381.4 1018.9 385.7 1020.8C390 1022.6 393.1 1024.4 396.4 1027.2C399.7 1029.9 402.5 1033.5 405.5 1037.5C408.6 1041.5 411.6 1047 414.6 1051.2C417.7 1055.5 420.7 1059.9 423.8 1063.1C426.8 1066.4 429.9 1069 432.9 1070.7C436 1072.5 437.4 1072.7 442.1 1073.8C446.7 1074.9 455.3 1076.6 460.9 1077.4C466.6 1078.2 471.1 1078 476.2 1078.5C481.3 1078.9 488.9 1079.7 491.4 1080" fill="none" stroke="#f00" stroke-width="1.8" stroke-linejoin="round" />
<path d="M188 970C190 971 193.5 974.4 199.8 975.8C206.1 977.2 216.3 976.7 225.7 978.4C235.1 980.1 246 983.1 256.2 986C266.3 988.9 276.5 992.5 286.7 995.6C296.8 998.7 307 1002 317.1 1004.8C327.3 1007.5 337.4 1009.7 347.6 1011.9C357.8 1014.1 370.5 1016.2 378.1 1018C385.7 1019.8 389 1020.6 393.3 1022.7C397.6 1024.9 400.4 1027.4 404 1031.1C407.5 1034.8 411.3 1040.5 414.6 1044.8C418 1049.2 420.7 1053.5 423.8 1057.3C426.8 1061.1 429.9 1065 432.9 1067.7C436 1070.4 438.7 1072 442.1 1073.5C445.5 1074.9 448.9 1075.8 453.3 1076.5C457.7 1077.2 463.5 1077.3 468.6 1077.7C473.6 1078.1 478.7 1078.2 483.8 1078.6C488.9 1079 496.5 1079.8 499 1080" fill="none" stroke="#f00" stroke-width="1.8" stroke-linejoin="round" />
<path d="M205 989.5C206.8 989.8 212.4 991.4 215.8 991C219.3 990.7 222.5 989 225.7 987.2C228.9 985.5 231 981.9 234.9 980.4C238.7 978.9 243.7 978.5 248.6 978.1C253.4 977.7 257.5 977.2 263.8 978.1C270.2 979 277.8 980.9 286.7 983.4C295.5 986 307 990 317.1 993.3C327.3 996.6 337.4 1000.1 347.6 1003.2C357.8 1006.4 366.8 1009.5 378.1 1012.4C389.4 1015.3 406.5 1017.7 415.2 1020.6C424 1023.5 426.7 1026.9 430.5 1029.7C434.3 1032.5 435.6 1034.3 438.1 1037.3C440.6 1040.4 443.2 1044.2 445.7 1048C448.3 1051.8 450.8 1056.9 453.3 1060.2C455.9 1063.5 457.9 1065.5 460.9 1067.8C464 1070.1 467 1072.4 471.6 1073.9C476.2 1075.4 482.5 1076.2 488.4 1076.9C494.2 1077.7 501.1 1078 506.7 1078.5C512.2 1079 519.4 1079.7 521.9 1080" fill="none" stroke="#f00" stroke-width="1.8" stroke-linejoin="round" />
<path d="M241 1016.5C242.4 1017 246.3 1020.8 249.3 1019.2C252.4 1017.7 256.1 1011.4 259.2 1007C262.4 1002.7 265.3 997 268.4 993.3C271.4 989.6 274 987 277.5 984.9C281.1 982.9 285.1 981.7 289.7 980.8C294.3 980 297.8 979 304.9 979.9C312.1 980.9 322.7 983.7 332.4 986.5C342 989.2 352.7 993.1 362.8 996.4C373 999.7 382 1003.3 393.3 1006.3C404.6 1009.3 421.7 1012.2 430.5 1014.5C439.2 1016.7 441.1 1018 445.7 1019.8C450.3 1021.6 454.1 1022.7 457.9 1025.1C461.7 1027.5 465.5 1031.2 468.6 1034.3C471.6 1037.3 473.6 1040.1 476.2 1043.4C478.7 1046.7 481.3 1050.8 483.8 1054.1C486.3 1057.4 488.9 1060.6 491.4 1063.2C494 1065.9 496 1068.3 499 1070.1C502.1 1071.9 504.6 1072.8 509.7 1073.9C514.8 1075 523.7 1076.2 529.5 1076.9C535.4 1077.7 539.7 1078 544.8 1078.5C549.8 1079 557.4 1079.7 560 1080" fill="none" stroke="#f00" stroke-width="1.8" stroke-linejoin="round" />
<path d="M296 1078C297 1077.2 299.9 1076.5 301.9 1073.3C303.9 1070.1 306.2 1064.8 308 1058.8C309.8 1052.9 311.3 1043.4 312.6 1037.5C313.8 1031.7 313.8 1028.9 315.6 1023.8C317.4 1018.7 320.4 1012.4 323.2 1007C326 1001.7 329.6 995.6 332.4 991.8C335.2 988 336.9 986 340 984.2C343 982.4 346.8 981.5 350.7 981.1C354.5 980.8 355.7 980.3 362.8 981.9C370 983.6 382 987.4 393.3 991C404.6 994.7 419.2 1000.3 430.5 1003.8C441.7 1007.3 450.8 1009.9 460.9 1012.2C471.1 1014.5 483.8 1015.9 491.4 1017.5C499 1019.2 502.1 1020.1 506.7 1022.1C511.2 1024.1 515 1026.7 518.8 1029.7C522.7 1032.8 526.5 1036.6 529.5 1040.4C532.6 1044.2 534.6 1048.8 537.1 1052.6C539.7 1056.4 542.2 1060.3 544.8 1063.2C547.3 1066.1 549.1 1068.2 552.4 1070.1C555.7 1072 559.5 1073.5 564.6 1074.7C569.6 1075.8 577.3 1076.5 582.8 1077.1C588.4 1077.7 593 1078 598.1 1078.5C603.2 1078.9 610.8 1079.7 613.3 1080" fill="none" stroke="#f00" stroke-width="1.8" stroke-linejoin="round" />
<path d="M355 1080.5C356.1 1079.6 359.3 1078.5 361.3 1074.8C363.4 1071.2 365.9 1066.1 367.4 1058.8C368.9 1051.6 369.6 1039 370.5 1031.4C371.4 1023.8 371.5 1019 372.7 1013.1C374 1007.3 376.2 1001.2 378.1 996.4C380 991.6 381.9 987.4 384.2 984.2C386.5 981 389.2 978.9 391.8 977.3C394.4 975.8 396.1 974.6 400 974.9C403.9 975.1 407.6 975.9 415.2 978.7C422.9 981.5 435.6 987.8 445.7 991.6C455.9 995.4 466 998.6 476.2 1001.5C486.3 1004.4 496.5 1006.9 506.7 1009.1C516.8 1011.4 529.5 1013.6 537.1 1015.2C544.8 1016.9 547.8 1017.4 552.4 1019C556.9 1020.7 560.7 1022.3 564.6 1025.1C568.4 1027.9 572.2 1032.2 575.2 1035.8C578.3 1039.4 580.3 1042.7 582.8 1046.5C585.4 1050.3 587.9 1055.1 590.5 1058.7C593 1062.2 595.5 1065.4 598.1 1067.8C600.6 1070.2 601.9 1071.6 605.7 1073.1C609.5 1074.6 615.9 1075.9 620.9 1076.8C626 1077.7 631.1 1077.9 636.2 1078.5C641.3 1079 648.9 1079.7 651.4 1080" fill="none" stroke="#f00" stroke-width="1.8" stroke-linejoin="round" />
<path d="M489.9 1081.2C491.2 1080.7 495.5 1080.9 497.5 1078.2C499.5 1075.4 500.9 1069.5 502.1 1064.8C503.2 1060 503.9 1055.9 504.4 1049.5C504.9 1043.2 504.8 1034.3 505.1 1026.7C505.5 1019 505.9 1011.4 506.7 1003.8C507.4 996.2 508.4 986.8 509.7 980.9C511 975.1 512 971.5 514.3 968.8C516.6 966 520.1 964.9 523.4 964.6C526.7 964.4 529.3 965.3 534.1 967.2C538.9 969.2 544.2 972.8 552.4 976.4C560.5 979.9 572.7 984.8 582.8 988.6C593 992.4 600.6 995.2 613.3 999.2C626 1003.3 651.4 1010.7 659 1012.9" fill="none" stroke="#f00" stroke-width="1.8" stroke-linejoin="round" />
<path d="M515.8 1081.2C517.1 1080.7 521.4 1080.9 523.4 1078.2C525.5 1075.4 526.8 1069.5 528 1064.8C529.1 1060 529.8 1055.9 530.3 1049.5C530.8 1043.2 530.5 1035.5 531 1026.7C531.5 1017.8 532.3 1004.6 533.3 996.2C534.3 987.8 535.7 981.3 537.1 976.4C538.5 971.4 539.7 968.6 541.7 966.5C543.7 964.4 546.5 963.9 549.3 963.7C552.1 963.6 552.9 963.3 558.5 965.7C564.1 968.1 573.7 973.8 582.8 977.9C592 982 600.6 985.3 613.3 990.1C626 994.9 651.4 1004.1 659 1006.9" fill="none" stroke="#f00" stroke-width="1.8" stroke-linejoin="round" />
<path d="M534.1 1081.2C535.4 1080.7 539.5 1080.9 541.7 1078.2C543.9 1075.4 545.6 1070.8 547 1064.8C548.4 1058.7 549.3 1050.8 550.1 1041.9C550.8 1033 551 1020.8 551.6 1011.4C552.2 1002 552.8 992.4 553.9 985.5C555 978.7 556.7 973.8 558.5 970.3C560.2 966.8 562.8 965.8 564.6 964.6C566.3 963.5 567.1 963.2 569.1 963.4C571.2 963.6 571.9 963.8 576.7 965.7C581.6 967.6 589.4 971 598.1 974.9C606.7 978.7 618.4 984.1 628.6 988.6C638.7 993 653.9 999.4 659 1001.5" fill="none" stroke="#f00" stroke-width="1.8" stroke-linejoin="round" />
<path d="M542.5 1081.2C543.7 1080.7 548.1 1080.9 550.1 1078.2C552.1 1075.4 553.5 1069.5 554.7 1064.8C555.8 1060 556.3 1057.1 556.9 1049.5C557.6 1041.9 557.8 1029.2 558.5 1019C559.1 1008.9 559.7 996.4 560.7 988.6C561.8 980.7 562.9 975.7 564.6 971.8C566.2 967.9 568.6 966.4 570.7 964.9C572.7 963.5 574.2 962.9 576.7 963.1C579.3 963.4 579.8 963.9 585.9 966.5C592 969.1 601.1 973.3 613.3 978.7C625.5 984 651.4 995.2 659 998.5" fill="none" stroke="#f00" stroke-width="1.8" stroke-linejoin="round" />
<path d="M151.2 1081.4C151.3 1077.5 151.8 1070.3 152 1058.3C152.2 1046.3 152.3 1024.8 152.6 1009.3C152.9 993.8 152.9 975.4 153.6 965.2C154.2 955.1 155 952.2 156.5 948.6C158 944.9 160.6 943.7 162.5 943.2C164.4 942.7 165.9 943.9 168 945.4C170.1 947 171.8 948.5 175 952.3C178.2 956.1 183.3 962.9 187.5 968.1C191.7 973.2 195.8 978.6 200 983.2C204.2 987.8 208.3 991.9 212.5 995.6C216.7 999.3 220.8 1002.4 225 1005.4C229.2 1008.4 234 1011.1 237.5 1013.4C241 1015.8 243.6 1017.4 246 1019.3C248.4 1021.2 250 1022.7 252 1024.9C254 1027.1 256 1029.6 258 1032.7C260 1035.7 262 1039.4 264 1043.2C266 1047.1 268 1052.1 270 1055.9C272 1059.7 274 1063.4 276 1066.2C278 1068.9 279.7 1070.8 282 1072.5C284.3 1074.3 286.7 1075.6 290 1076.5C293.3 1077.4 296.2 1077.4 302 1077.9C307.8 1078.4 312.8 1078.9 325 1079.4C337.2 1079.9 355.3 1080.7 375 1081.1C394.7 1081.6 413.8 1081.9 443 1082.1C472.2 1082.3 514 1082.5 550 1082.5C586 1082.5 640.8 1082.2 659 1082.1" fill="none" stroke="#000" stroke-width="6.8" stroke-linejoin="round" stroke-linecap="butt"/>
<path d="M774.6 982.5C777.6 984 787.1 988.1 792.5 991.4C797.9 994.8 803 998.5 807.1 1002.8C811.1 1007.1 813.3 1011.7 816.8 1017.4C820.3 1023.1 824.7 1030.1 828.2 1036.9C831.7 1043.7 835 1051 837.9 1058C840.9 1065 843.6 1072.6 846.1 1079.1C848.5 1085.6 850.9 1093.1 852.5 1097C854.2 1100.8 855.3 1101.3 855.8 1102.2L855.8 1102.2C857.1 1100.5 860.9 1095.1 863.9 1092.4C866.9 1089.8 870.4 1086.5 873.7 1086.4C876.9 1086.4 879.9 1090.1 883.4 1092.1C886.9 1094.1 890.4 1096.7 894.8 1098.6C899.1 1100.5 906.9 1102.7 909.4 1103.5" fill="none" stroke="#f00" stroke-width="1.8" stroke-linejoin="round" />
<path d="M807.1 1002.8C808.2 1002.5 811.4 1001.5 813.6 1001.2C815.7 1000.9 816.8 999.8 820.1 1000.9C823.3 1001.9 829 1004.9 833.1 1007.7C837.1 1010.4 840.9 1013.6 844.4 1017.4C847.9 1021.2 851.2 1025.5 854.2 1030.4C857.1 1035.3 859.9 1041 862.3 1046.6C864.7 1052.3 866.9 1058.6 868.8 1064.5C870.7 1070.5 872.3 1077.5 873.7 1082.4C875 1087.2 875.8 1090.8 876.9 1093.7C878 1096.7 879.1 1098.5 880.1 1100.2C881.2 1101.9 882.9 1103.2 883.4 1103.8" fill="none" stroke="#f00" stroke-width="1.8" stroke-linejoin="round" />
<path d="M912.6 1103.8C914.2 1102.3 919.4 1097.4 922.4 1094.5C925.3 1091.6 928.5 1088.2 930.5 1086.4C932.5 1084.7 933.2 1084 934.5 1084C935.9 1084 937.1 1085.1 938.6 1086.4C940.1 1087.8 941.3 1090.1 943.5 1092.1C945.6 1094.1 948.3 1096.8 951.6 1098.6C954.8 1100.4 959.4 1101.7 963 1102.7C966.5 1103.6 971.1 1103.9 972.7 1104.1" fill="none" stroke="#f00" stroke-width="1.8" stroke-linejoin="round" />
<path d="M1046.1 1104.8C1048.3 1102.6 1056.1 1095.8 1059.2 1091.9C1062.4 1088.1 1063.8 1085.1 1065.1 1081.7C1066.3 1078.3 1066.3 1073.2 1066.5 1071.5L1066.8 1068.6L1067.4 1027.7L1067.7 960L1070.9 971.4C1072.1 970.3 1075.8 966.3 1078.2 964.8C1080.6 963.4 1082.6 962.6 1085.5 962.6C1088.4 962.6 1091.6 963.4 1095.7 964.8C1099.9 966.3 1104.3 968.5 1110.4 971.4C1116.4 974.3 1126.2 979.1 1132.3 982.4C1138.4 985.7 1142 988 1146.9 991.1C1151.7 994.3 1157.1 997.2 1161.5 1001.4C1165.9 1005.5 1169.5 1010.6 1173.2 1016C1176.8 1021.3 1180.2 1027.2 1183.4 1033.5C1186.6 1039.8 1189.5 1047.1 1192.2 1054C1194.8 1060.8 1197.3 1067.8 1199.5 1074.4C1201.7 1081 1203.5 1088.5 1205.3 1093.4C1207.1 1098.3 1209.6 1102.2 1210.4 1103.9" fill="none" stroke="#f00" stroke-width="1.8" stroke-linejoin="round" />
<path d="M1072.4 1104.8C1074.6 1102.6 1082.3 1095.8 1085.5 1091.9C1088.7 1088.1 1090.1 1085.1 1091.4 1081.7C1092.6 1078.3 1092.6 1073.2 1092.8 1071.5L1093.1 1068.6L1093.7 1027.7L1094 960L1096.9 971.4C1098.2 970.3 1102 966.3 1104.5 964.8C1107 963.4 1108.6 962.6 1111.8 962.6C1115 962.6 1118.9 963.4 1123.5 964.8C1128.1 966.3 1133.2 968.5 1139.6 971.4C1145.9 974.3 1155.4 979.1 1161.5 982.4C1167.6 985.7 1171.2 987.7 1176.1 991.1C1181 994.5 1186.3 998.7 1190.7 1002.8C1195.1 1007 1199.2 1011.6 1202.4 1016C1205.6 1020.4 1207.5 1025.1 1209.7 1029.1C1211.9 1033.1 1214.6 1038.2 1215.5 1040.1" fill="none" stroke="#f00" stroke-width="1.8" stroke-linejoin="round" />
<path d="M1091.4 1104.8C1093.6 1102.6 1101.3 1095.8 1104.5 1091.9C1107.7 1088.1 1109.1 1085.1 1110.4 1081.7C1111.6 1078.3 1111.6 1073.2 1111.8 1071.5L1112.1 1068.6L1112.7 1027.7L1113 960L1115.5 971.4C1116.8 970.3 1120.9 966.3 1123.5 964.8C1126.1 963.4 1127.6 962.8 1130.8 962.6C1134 962.5 1137.4 962.6 1142.5 964.1C1147.6 965.6 1155.9 969 1161.5 971.4C1167.1 973.8 1171.2 976 1176.1 978.7C1181 981.4 1185.8 984.2 1190.7 987.5C1195.6 990.8 1201.2 994.8 1205.3 998.4C1209.4 1002.1 1213.8 1007.6 1215.5 1009.4" fill="none" stroke="#f00" stroke-width="1.8" stroke-linejoin="round" />
<path d="M1098.7 1104.8C1100.9 1102.6 1108.6 1095.8 1111.8 1091.9C1115 1088.1 1116.4 1085.1 1117.7 1081.7C1118.9 1078.3 1118.9 1073.2 1119.1 1071.5L1119.4 1068.6L1120 1027.7L1120.3 960L1123.1 971.4C1124.4 970.3 1128.3 966.4 1130.8 964.8C1133.3 963.3 1134.9 962.3 1138.1 962.2C1141.3 962.1 1144.7 962.4 1149.8 964.1C1154.9 965.8 1162 969 1168.8 972.1C1175.6 975.3 1184.6 979.7 1190.7 983.1C1196.8 986.5 1201.2 989.4 1205.3 992.6C1209.4 995.8 1213.8 1000.5 1215.5 1002.1" fill="none" stroke="#f00" stroke-width="1.8" stroke-linejoin="round" />
<path d="M705.5 1107.5C705.7 1099.9 706.2 1079.7 706.6 1062.2C707 1044.6 707.3 1019.8 707.6 1002.4C707.9 984.9 708.2 969 708.4 957.5C708.6 946.1 708.8 937.8 708.9 933.8L708.9 933.8C709 936.2 709.2 943.6 709.6 948.2C710 952.7 710.5 958.5 711 961C711.5 963.6 712.4 963.1 712.7 963.5L712.7 963.5C713.1 963.2 714.1 962.2 715 961.8C715.9 961.4 716.8 960.9 718 961C719.2 961.2 719.1 961.8 722 962.8C724.9 963.8 732 965.9 735.5 967.1C739 968.3 739.8 968.6 743 970.1C746.2 971.5 752.2 974.4 755 975.9C757.8 977.3 756.9 976.9 760 978.7C763.1 980.4 769.2 983.6 773.8 986.2C778.4 988.9 783.5 991.8 787.6 994.5C791.7 997.2 795.2 999.6 798.6 1002.7C802 1005.8 805.1 1008.8 808.3 1013C811.5 1017.3 814.9 1022.7 817.9 1028.2C820.9 1033.7 823.7 1039.6 826.2 1046C828.7 1052.4 831.2 1060.2 833.1 1066.6C835 1073 836.5 1079.4 837.9 1084.5C839.3 1089.5 840.2 1093.6 841.4 1096.8C842.5 1100 843.4 1102 844.8 1103.7C846.2 1105.4 847.3 1106.2 849.7 1106.8C852.1 1107.4 850.9 1107.2 859.3 1107.3C867.7 1107.4 840.6 1107.4 900 1107.5C959.4 1107.5 1162.9 1107.6 1215.5 1107.6" fill="none" stroke="#000" stroke-width="6.8" stroke-linejoin="round" stroke-linecap="butt"/>
</svg>
</body></html>
